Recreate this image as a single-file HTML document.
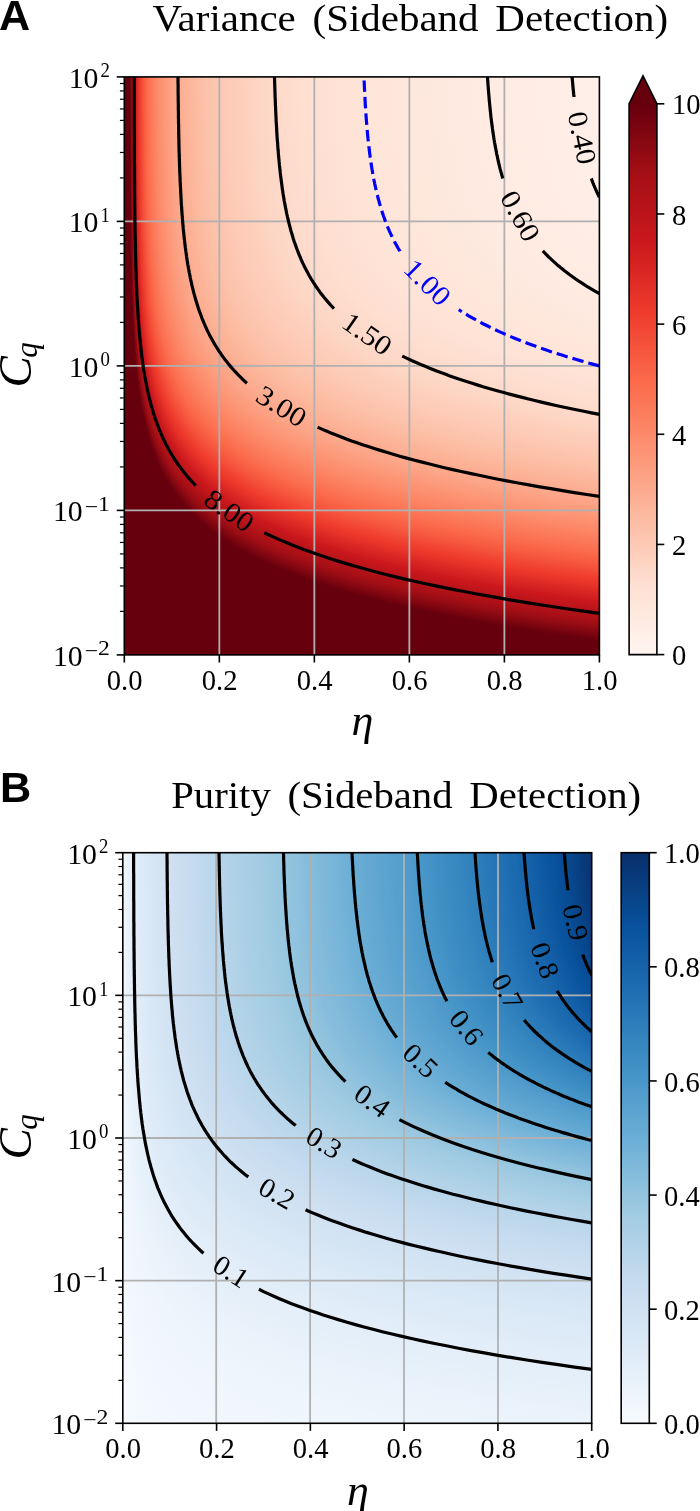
<!DOCTYPE html>
<html><head><meta charset="utf-8"><title>Variance and Purity (Sideband Detection)</title>
<style>html,body{margin:0;padding:0;background:#fff}svg text{font-family:"Liberation Serif",serif}svg text.pl{font-family:"Liberation Sans",sans-serif;font-weight:bold}</style></head>
<body>
<svg width="700" height="1511" viewBox="0 0 700 1511" style="display:block;will-change:transform">
<defs>
<linearGradient id="gA" x1="0" y1="0" x2="1" y2="0"><stop offset="0" stop-color="#67000d"/><stop offset="0.0124" stop-color="#67000d"/><stop offset="0.0126446" stop-color="#6b010e"/><stop offset="0.0129026" stop-color="#71020e"/><stop offset="0.0131744" stop-color="#75030f"/><stop offset="0.0134601" stop-color="#7a0510"/><stop offset="0.01376" stop-color="#7e0610"/><stop offset="0.0140743" stop-color="#840711"/><stop offset="0.014403" stop-color="#880811"/><stop offset="0.0147464" stop-color="#8e0912"/><stop offset="0.0151043" stop-color="#940b13"/><stop offset="0.0154768" stop-color="#980c13"/><stop offset="0.0158637" stop-color="#9d0d14"/><stop offset="0.0162647" stop-color="#a10e15"/><stop offset="0.0166794" stop-color="#a60f15"/><stop offset="0.0171074" stop-color="#a91016"/><stop offset="0.017548" stop-color="#ac1117"/><stop offset="0.0180002" stop-color="#af1117"/><stop offset="0.018463" stop-color="#b21218"/><stop offset="0.018935" stop-color="#b61319"/><stop offset="0.0194146" stop-color="#b81419"/><stop offset="0.0199" stop-color="#bc141a"/><stop offset="0.0203959" stop-color="#be151a"/><stop offset="0.0209089" stop-color="#c2161b"/><stop offset="0.0214398" stop-color="#c4161c"/><stop offset="0.0219895" stop-color="#c8171c"/><stop offset="0.0225589" stop-color="#cb181d"/><stop offset="0.023149" stop-color="#ce1a1e"/><stop offset="0.0237606" stop-color="#d11e1f"/><stop offset="0.0243948" stop-color="#d32020"/><stop offset="0.0250529" stop-color="#d72322"/><stop offset="0.0257359" stop-color="#d92523"/><stop offset="0.0264452" stop-color="#dc2924"/><stop offset="0.0271821" stop-color="#de2b25"/><stop offset="0.027948" stop-color="#e22e27"/><stop offset="0.0287445" stop-color="#e53228"/><stop offset="0.0295733" stop-color="#e83429"/><stop offset="0.0304361" stop-color="#eb372a"/><stop offset="0.0313348" stop-color="#ed392b"/><stop offset="0.0322714" stop-color="#f03d2d"/><stop offset="0.0332481" stop-color="#f0402f"/><stop offset="0.0342672" stop-color="#f14432"/><stop offset="0.0353313" stop-color="#f24734"/><stop offset="0.036443" stop-color="#f34c37"/><stop offset="0.0376053" stop-color="#f4503a"/><stop offset="0.0388213" stop-color="#f5533b"/><stop offset="0.0400943" stop-color="#f6583e"/><stop offset="0.0414282" stop-color="#f75b40"/><stop offset="0.0428268" stop-color="#f85f43"/><stop offset="0.0442945" stop-color="#f96245"/><stop offset="0.045836" stop-color="#fa6648"/><stop offset="0.0474564" stop-color="#fb6b4b"/><stop offset="0.0491614" stop-color="#fb6d4d"/><stop offset="0.050957" stop-color="#fb7151"/><stop offset="0.05285" stop-color="#fb7353"/><stop offset="0.0548477" stop-color="#fb7757"/><stop offset="0.0569581" stop-color="#fb7a5a"/><stop offset="0.0591902" stop-color="#fb7d5d"/><stop offset="0.0615538" stop-color="#fc8060"/><stop offset="0.0640598" stop-color="#fc8464"/><stop offset="0.0667202" stop-color="#fc8767"/><stop offset="0.0695485" stop-color="#fc8a6a"/><stop offset="0.0725596" stop-color="#fc8e6e"/><stop offset="0.0757703" stop-color="#fc9070"/><stop offset="0.0791993" stop-color="#fc9474"/><stop offset="0.0828678" stop-color="#fc9777"/><stop offset="0.0867996" stop-color="#fc9b7c"/><stop offset="0.0910219" stop-color="#fc9d7f"/><stop offset="0.0955652" stop-color="#fca183"/><stop offset="0.100465" stop-color="#fca588"/><stop offset="0.105761" stop-color="#fca78b"/><stop offset="0.1115" stop-color="#fcab8f"/><stop offset="0.117745" stop-color="#fcae92"/><stop offset="0.124567" stop-color="#fcb296"/><stop offset="0.132034" stop-color="#fcb499"/><stop offset="0.140224" stop-color="#fcb89e"/><stop offset="0.149225" stop-color="#fcbca2"/><stop offset="0.15914" stop-color="#fcbea5"/><stop offset="0.170083" stop-color="#fcc2aa"/><stop offset="0.182186" stop-color="#fcc4ad"/><stop offset="0.195599" stop-color="#fdc7b2"/><stop offset="0.210491" stop-color="#fdcab5"/><stop offset="0.22705" stop-color="#fdcdb9"/><stop offset="0.245488" stop-color="#fdd0bc"/><stop offset="0.266032" stop-color="#fdd3c1"/><stop offset="0.288923" stop-color="#fdd7c6"/><stop offset="0.3144" stop-color="#fed9c9"/><stop offset="0.343046" stop-color="#fedccd"/><stop offset="0.375591" stop-color="#fedfd0"/><stop offset="0.412444" stop-color="#fee1d4"/><stop offset="0.453865" stop-color="#fee3d6"/><stop offset="0.49975" stop-color="#fee5d8"/><stop offset="0.551631" stop-color="#fee6da"/><stop offset="0.612087" stop-color="#fee8dd"/><stop offset="0.681542" stop-color="#feeae0"/><stop offset="0.7585" stop-color="#ffebe2"/><stop offset="0.842379" stop-color="#ffede5"/><stop offset="0.9347" stop-color="#ffeee7"/><stop offset="0.972456" stop-color="#ffefe8"/><stop offset="1" stop-color="#fff0e8"/></linearGradient>
<linearGradient id="gB" x1="0" y1="0" x2="1" y2="0"><stop offset="0" stop-color="#f7fbff"/><stop offset="0.000219998" stop-color="#f5fafe"/><stop offset="0.000885602" stop-color="#f3f8fe"/><stop offset="0.00200462" stop-color="#f2f7fd"/><stop offset="0.00358402" stop-color="#eff6fc"/><stop offset="0.00562987" stop-color="#eef5fc"/><stop offset="0.00814727" stop-color="#ebf3fb"/><stop offset="0.0111404" stop-color="#eaf2fb"/><stop offset="0.0146122" stop-color="#e7f1fa"/><stop offset="0.0185648" stop-color="#e5eff9"/><stop offset="0.0229991" stop-color="#e3eef9"/><stop offset="0.0279148" stop-color="#e1edf8"/><stop offset="0.0333106" stop-color="#dfecf7"/><stop offset="0.039184" stop-color="#ddeaf7"/><stop offset="0.0455312" stop-color="#dce9f6"/><stop offset="0.0523475" stop-color="#d9e8f5"/><stop offset="0.0596267" stop-color="#d8e7f5"/><stop offset="0.0673618" stop-color="#d6e5f4"/><stop offset="0.0755445" stop-color="#d3e4f3"/><stop offset="0.0841654" stop-color="#d2e3f3"/><stop offset="0.093214" stop-color="#d0e1f2"/><stop offset="0.102679" stop-color="#cee0f2"/><stop offset="0.112548" stop-color="#ccdff1"/><stop offset="0.122808" stop-color="#cadef0"/><stop offset="0.133444" stop-color="#c8dcf0"/><stop offset="0.144442" stop-color="#c6dbef"/><stop offset="0.155786" stop-color="#c3daee"/><stop offset="0.167459" stop-color="#bfd8ed"/><stop offset="0.179445" stop-color="#bdd7ec"/><stop offset="0.191727" stop-color="#b9d6ea"/><stop offset="0.204285" stop-color="#b7d4ea"/><stop offset="0.217104" stop-color="#b3d3e8"/><stop offset="0.230163" stop-color="#b0d2e7"/><stop offset="0.243444" stop-color="#add0e6"/><stop offset="0.256929" stop-color="#a9cfe5"/><stop offset="0.270599" stop-color="#a6cee4"/><stop offset="0.284434" stop-color="#a3cce3"/><stop offset="0.298417" stop-color="#a0cbe2"/><stop offset="0.312528" stop-color="#9cc9e1"/><stop offset="0.32675" stop-color="#99c7e0"/><stop offset="0.341064" stop-color="#94c4df"/><stop offset="0.355453" stop-color="#91c3de"/><stop offset="0.369899" stop-color="#8cc0dd"/><stop offset="0.384386" stop-color="#87bddc"/><stop offset="0.398898" stop-color="#84bcdb"/><stop offset="0.413417" stop-color="#7fb9da"/><stop offset="0.42793" stop-color="#7cb7da"/><stop offset="0.442421" stop-color="#77b5d9"/><stop offset="0.456876" stop-color="#74b3d8"/><stop offset="0.471282" stop-color="#6fb0d7"/><stop offset="0.485625" stop-color="#6aaed6"/><stop offset="0.499895" stop-color="#68acd5"/><stop offset="0.514078" stop-color="#64a9d3"/><stop offset="0.528164" stop-color="#61a7d2"/><stop offset="0.542143" stop-color="#5da5d1"/><stop offset="0.556005" stop-color="#5ba3d0"/><stop offset="0.569741" stop-color="#57a0ce"/><stop offset="0.583343" stop-color="#549fcd"/><stop offset="0.596803" stop-color="#519ccc"/><stop offset="0.610113" stop-color="#4d99ca"/><stop offset="0.623269" stop-color="#4a98c9"/><stop offset="0.636262" stop-color="#4695c8"/><stop offset="0.649089" stop-color="#4493c7"/><stop offset="0.661744" stop-color="#4090c5"/><stop offset="0.674224" stop-color="#3e8ec4"/><stop offset="0.686523" stop-color="#3b8bc2"/><stop offset="0.698639" stop-color="#3989c1"/><stop offset="0.71057" stop-color="#3686c0"/><stop offset="0.722312" stop-color="#3383be"/><stop offset="0.733864" stop-color="#3181bd"/><stop offset="0.745224" stop-color="#2e7ebc"/><stop offset="0.756392" stop-color="#2c7cba"/><stop offset="0.767365" stop-color="#2979b9"/><stop offset="0.778144" stop-color="#2676b8"/><stop offset="0.788729" stop-color="#2373b6"/><stop offset="0.799119" stop-color="#2070b4"/><stop offset="0.809315" stop-color="#1f6eb3"/><stop offset="0.819318" stop-color="#1c6bb0"/><stop offset="0.829129" stop-color="#1b69af"/><stop offset="0.838748" stop-color="#1966ad"/><stop offset="0.848176" stop-color="#1764ab"/><stop offset="0.857417" stop-color="#1561a9"/><stop offset="0.86647" stop-color="#135fa7"/><stop offset="0.875338" stop-color="#115ca5"/><stop offset="0.884023" stop-color="#0e59a2"/><stop offset="0.892526" stop-color="#0d57a1"/><stop offset="0.900851" stop-color="#0a549e"/><stop offset="0.908999" stop-color="#09529d"/><stop offset="0.916972" stop-color="#084f99"/><stop offset="0.924774" stop-color="#084d96"/><stop offset="0.932406" stop-color="#084a91"/><stop offset="0.939872" stop-color="#08488e"/><stop offset="0.947173" stop-color="#08458a"/><stop offset="0.954313" stop-color="#084285"/><stop offset="0.961294" stop-color="#084082"/><stop offset="0.968119" stop-color="#083c7d"/><stop offset="0.974791" stop-color="#083a7a"/><stop offset="0.981312" stop-color="#083776"/><stop offset="0.987685" stop-color="#083573"/><stop offset="0.993914" stop-color="#08326e"/><stop offset="1" stop-color="#08306b"/></linearGradient>
<linearGradient id="cA" x1="0" y1="1" x2="0" y2="0"><stop offset="0" stop-color="#fff5f0"/><stop offset="0.015625" stop-color="#fff2ec"/><stop offset="0.03125" stop-color="#fff0e8"/><stop offset="0.046875" stop-color="#ffede5"/><stop offset="0.0625" stop-color="#feeae1"/><stop offset="0.078125" stop-color="#fee8dd"/><stop offset="0.09375" stop-color="#fee5d9"/><stop offset="0.109375" stop-color="#fee3d6"/><stop offset="0.125" stop-color="#fee0d2"/><stop offset="0.140625" stop-color="#fedbcc"/><stop offset="0.15625" stop-color="#fdd7c6"/><stop offset="0.171875" stop-color="#fdd2bf"/><stop offset="0.1875" stop-color="#fdcdb9"/><stop offset="0.203125" stop-color="#fdc9b3"/><stop offset="0.21875" stop-color="#fcc4ad"/><stop offset="0.234375" stop-color="#fcbfa7"/><stop offset="0.25" stop-color="#fcbba1"/><stop offset="0.265625" stop-color="#fcb69b"/><stop offset="0.28125" stop-color="#fcb095"/><stop offset="0.296875" stop-color="#fcab8f"/><stop offset="0.3125" stop-color="#fca689"/><stop offset="0.328125" stop-color="#fca183"/><stop offset="0.34375" stop-color="#fc9c7d"/><stop offset="0.359375" stop-color="#fc9777"/><stop offset="0.375" stop-color="#fc9272"/><stop offset="0.390625" stop-color="#fc8d6d"/><stop offset="0.40625" stop-color="#fc8767"/><stop offset="0.421875" stop-color="#fc8262"/><stop offset="0.4375" stop-color="#fb7d5d"/><stop offset="0.453125" stop-color="#fb7858"/><stop offset="0.46875" stop-color="#fb7353"/><stop offset="0.484375" stop-color="#fb6e4e"/><stop offset="0.5" stop-color="#fb694a"/><stop offset="0.515625" stop-color="#f96346"/><stop offset="0.53125" stop-color="#f85d42"/><stop offset="0.546875" stop-color="#f6583e"/><stop offset="0.5625" stop-color="#f5523a"/><stop offset="0.578125" stop-color="#f34c37"/><stop offset="0.59375" stop-color="#f24633"/><stop offset="0.609375" stop-color="#f0402f"/><stop offset="0.625" stop-color="#ee3a2c"/><stop offset="0.640625" stop-color="#ea362a"/><stop offset="0.65625" stop-color="#e53228"/><stop offset="0.671875" stop-color="#e12d26"/><stop offset="0.6875" stop-color="#dc2924"/><stop offset="0.703125" stop-color="#d82422"/><stop offset="0.71875" stop-color="#d32020"/><stop offset="0.734375" stop-color="#cf1c1f"/><stop offset="0.75" stop-color="#ca181d"/><stop offset="0.765625" stop-color="#c5171c"/><stop offset="0.78125" stop-color="#c1161b"/><stop offset="0.796875" stop-color="#bc141a"/><stop offset="0.8125" stop-color="#b71319"/><stop offset="0.828125" stop-color="#b21218"/><stop offset="0.84375" stop-color="#ad1117"/><stop offset="0.859375" stop-color="#a91016"/><stop offset="0.875" stop-color="#a30f15"/><stop offset="0.890625" stop-color="#9c0d14"/><stop offset="0.90625" stop-color="#940b13"/><stop offset="0.921875" stop-color="#8c0912"/><stop offset="0.9375" stop-color="#840711"/><stop offset="0.953125" stop-color="#7c0510"/><stop offset="0.96875" stop-color="#75030f"/><stop offset="0.984375" stop-color="#6d010e"/><stop offset="1" stop-color="#67000d"/></linearGradient>
<linearGradient id="cB" x1="0" y1="1" x2="0" y2="0"><stop offset="0" stop-color="#f7fbff"/><stop offset="0.015625" stop-color="#f4f9fe"/><stop offset="0.03125" stop-color="#f1f7fd"/><stop offset="0.046875" stop-color="#eef5fc"/><stop offset="0.0625" stop-color="#eaf3fb"/><stop offset="0.078125" stop-color="#e7f1fa"/><stop offset="0.09375" stop-color="#e4eff9"/><stop offset="0.109375" stop-color="#e1edf8"/><stop offset="0.125" stop-color="#deebf7"/><stop offset="0.140625" stop-color="#dbe9f6"/><stop offset="0.15625" stop-color="#d8e7f5"/><stop offset="0.171875" stop-color="#d5e5f4"/><stop offset="0.1875" stop-color="#d2e3f3"/><stop offset="0.203125" stop-color="#cfe1f2"/><stop offset="0.21875" stop-color="#ccdff1"/><stop offset="0.234375" stop-color="#c9ddf0"/><stop offset="0.25" stop-color="#c6dbef"/><stop offset="0.265625" stop-color="#c1d9ed"/><stop offset="0.28125" stop-color="#bcd7eb"/><stop offset="0.296875" stop-color="#b7d4ea"/><stop offset="0.3125" stop-color="#b2d2e8"/><stop offset="0.328125" stop-color="#add0e6"/><stop offset="0.34375" stop-color="#a8cee4"/><stop offset="0.359375" stop-color="#a3cce3"/><stop offset="0.375" stop-color="#9dcae1"/><stop offset="0.390625" stop-color="#97c6df"/><stop offset="0.40625" stop-color="#91c3de"/><stop offset="0.421875" stop-color="#8abfdd"/><stop offset="0.4375" stop-color="#84bcdb"/><stop offset="0.453125" stop-color="#7db8da"/><stop offset="0.46875" stop-color="#77b5d9"/><stop offset="0.484375" stop-color="#71b1d7"/><stop offset="0.5" stop-color="#6aaed6"/><stop offset="0.515625" stop-color="#65aad4"/><stop offset="0.53125" stop-color="#60a7d2"/><stop offset="0.546875" stop-color="#5ba3d0"/><stop offset="0.5625" stop-color="#56a0ce"/><stop offset="0.578125" stop-color="#519ccc"/><stop offset="0.59375" stop-color="#4b98ca"/><stop offset="0.609375" stop-color="#4695c8"/><stop offset="0.625" stop-color="#4191c6"/><stop offset="0.640625" stop-color="#3d8dc4"/><stop offset="0.65625" stop-color="#3989c1"/><stop offset="0.671875" stop-color="#3585bf"/><stop offset="0.6875" stop-color="#3181bd"/><stop offset="0.703125" stop-color="#2d7dbb"/><stop offset="0.71875" stop-color="#2979b9"/><stop offset="0.734375" stop-color="#2474b7"/><stop offset="0.75" stop-color="#2070b4"/><stop offset="0.765625" stop-color="#1d6cb1"/><stop offset="0.78125" stop-color="#1a68ae"/><stop offset="0.796875" stop-color="#1764ab"/><stop offset="0.8125" stop-color="#1460a8"/><stop offset="0.828125" stop-color="#115ca5"/><stop offset="0.84375" stop-color="#0e58a2"/><stop offset="0.859375" stop-color="#0a549e"/><stop offset="0.875" stop-color="#08509b"/><stop offset="0.890625" stop-color="#084c95"/><stop offset="0.90625" stop-color="#08488e"/><stop offset="0.921875" stop-color="#084488"/><stop offset="0.9375" stop-color="#084082"/><stop offset="0.953125" stop-color="#083b7c"/><stop offset="0.96875" stop-color="#083776"/><stop offset="0.984375" stop-color="#083370"/><stop offset="1" stop-color="#08306b"/></linearGradient>
<clipPath id="clA"><rect x="124.30" y="76.90" width="475.10" height="578.00"/></clipPath>
<clipPath id="clB"><rect x="122.80" y="852.70" width="468.90" height="570.60"/></clipPath>
</defs>
<rect width="700" height="1511" fill="#fff"/>
<g clip-path="url(#clA)" shape-rendering="crispEdges">
<rect x="124.30" y="76" width="479.9" height="1" fill="url(#gA)"/>
<rect x="124.30" y="77" width="479.9" height="1" fill="url(#gA)"/>
<rect x="124.30" y="78" width="480.0" height="1" fill="url(#gA)"/>
<rect x="124.30" y="79" width="480.1" height="1" fill="url(#gA)"/>
<rect x="124.30" y="80" width="480.1" height="1" fill="url(#gA)"/>
<rect x="124.30" y="81" width="480.2" height="1" fill="url(#gA)"/>
<rect x="124.30" y="82" width="480.3" height="1" fill="url(#gA)"/>
<rect x="124.30" y="83" width="480.4" height="1" fill="url(#gA)"/>
<rect x="124.30" y="84" width="480.5" height="1" fill="url(#gA)"/>
<rect x="124.30" y="85" width="480.5" height="1" fill="url(#gA)"/>
<rect x="124.30" y="86" width="480.6" height="1" fill="url(#gA)"/>
<rect x="124.30" y="87" width="480.7" height="1" fill="url(#gA)"/>
<rect x="124.30" y="88" width="480.8" height="1" fill="url(#gA)"/>
<rect x="124.30" y="89" width="480.9" height="1" fill="url(#gA)"/>
<rect x="124.30" y="90" width="481.0" height="1" fill="url(#gA)"/>
<rect x="124.30" y="91" width="481.1" height="1" fill="url(#gA)"/>
<rect x="124.30" y="92" width="481.2" height="1" fill="url(#gA)"/>
<rect x="124.30" y="93" width="481.3" height="1" fill="url(#gA)"/>
<rect x="124.30" y="94" width="481.4" height="1" fill="url(#gA)"/>
<rect x="124.30" y="95" width="481.5" height="1" fill="url(#gA)"/>
<rect x="124.30" y="96" width="481.6" height="1" fill="url(#gA)"/>
<rect x="124.30" y="97" width="481.7" height="1" fill="url(#gA)"/>
<rect x="124.30" y="98" width="481.8" height="1" fill="url(#gA)"/>
<rect x="124.30" y="99" width="481.9" height="1" fill="url(#gA)"/>
<rect x="124.30" y="100" width="482.0" height="1" fill="url(#gA)"/>
<rect x="124.30" y="101" width="482.1" height="1" fill="url(#gA)"/>
<rect x="124.30" y="102" width="482.2" height="1" fill="url(#gA)"/>
<rect x="124.30" y="103" width="482.4" height="1" fill="url(#gA)"/>
<rect x="124.30" y="104" width="482.5" height="1" fill="url(#gA)"/>
<rect x="124.30" y="105" width="482.6" height="1" fill="url(#gA)"/>
<rect x="124.30" y="106" width="482.7" height="1" fill="url(#gA)"/>
<rect x="124.30" y="107" width="482.8" height="1" fill="url(#gA)"/>
<rect x="124.30" y="108" width="483.0" height="1" fill="url(#gA)"/>
<rect x="124.30" y="109" width="483.1" height="1" fill="url(#gA)"/>
<rect x="124.30" y="110" width="483.2" height="1" fill="url(#gA)"/>
<rect x="124.30" y="111" width="483.3" height="1" fill="url(#gA)"/>
<rect x="124.30" y="112" width="483.5" height="1" fill="url(#gA)"/>
<rect x="124.30" y="113" width="483.6" height="1" fill="url(#gA)"/>
<rect x="124.30" y="114" width="483.7" height="1" fill="url(#gA)"/>
<rect x="124.30" y="115" width="483.9" height="1" fill="url(#gA)"/>
<rect x="124.30" y="116" width="484.0" height="1" fill="url(#gA)"/>
<rect x="124.30" y="117" width="484.2" height="1" fill="url(#gA)"/>
<rect x="124.30" y="118" width="484.3" height="1" fill="url(#gA)"/>
<rect x="124.30" y="119" width="484.5" height="1" fill="url(#gA)"/>
<rect x="124.30" y="120" width="484.6" height="1" fill="url(#gA)"/>
<rect x="124.30" y="121" width="484.8" height="1" fill="url(#gA)"/>
<rect x="124.30" y="122" width="484.9" height="1" fill="url(#gA)"/>
<rect x="124.30" y="123" width="485.1" height="1" fill="url(#gA)"/>
<rect x="124.30" y="124" width="485.2" height="1" fill="url(#gA)"/>
<rect x="124.30" y="125" width="485.4" height="1" fill="url(#gA)"/>
<rect x="124.30" y="126" width="485.6" height="1" fill="url(#gA)"/>
<rect x="124.30" y="127" width="485.7" height="1" fill="url(#gA)"/>
<rect x="124.30" y="128" width="485.9" height="1" fill="url(#gA)"/>
<rect x="124.30" y="129" width="486.1" height="1" fill="url(#gA)"/>
<rect x="124.30" y="130" width="486.3" height="1" fill="url(#gA)"/>
<rect x="124.30" y="131" width="486.4" height="1" fill="url(#gA)"/>
<rect x="124.30" y="132" width="486.6" height="1" fill="url(#gA)"/>
<rect x="124.30" y="133" width="486.8" height="1" fill="url(#gA)"/>
<rect x="124.30" y="134" width="487.0" height="1" fill="url(#gA)"/>
<rect x="124.30" y="135" width="487.2" height="1" fill="url(#gA)"/>
<rect x="124.30" y="136" width="487.4" height="1" fill="url(#gA)"/>
<rect x="124.30" y="137" width="487.6" height="1" fill="url(#gA)"/>
<rect x="124.30" y="138" width="487.8" height="1" fill="url(#gA)"/>
<rect x="124.30" y="139" width="488.0" height="1" fill="url(#gA)"/>
<rect x="124.30" y="140" width="488.2" height="1" fill="url(#gA)"/>
<rect x="124.30" y="141" width="488.4" height="1" fill="url(#gA)"/>
<rect x="124.30" y="142" width="488.6" height="1" fill="url(#gA)"/>
<rect x="124.30" y="143" width="488.8" height="1" fill="url(#gA)"/>
<rect x="124.30" y="144" width="489.1" height="1" fill="url(#gA)"/>
<rect x="124.30" y="145" width="489.3" height="1" fill="url(#gA)"/>
<rect x="124.30" y="146" width="489.5" height="1" fill="url(#gA)"/>
<rect x="124.30" y="147" width="489.7" height="1" fill="url(#gA)"/>
<rect x="124.30" y="148" width="490.0" height="1" fill="url(#gA)"/>
<rect x="124.30" y="149" width="490.2" height="1" fill="url(#gA)"/>
<rect x="124.30" y="150" width="490.5" height="1" fill="url(#gA)"/>
<rect x="124.30" y="151" width="490.7" height="1" fill="url(#gA)"/>
<rect x="124.30" y="152" width="490.9" height="1" fill="url(#gA)"/>
<rect x="124.30" y="153" width="491.2" height="1" fill="url(#gA)"/>
<rect x="124.30" y="154" width="491.5" height="1" fill="url(#gA)"/>
<rect x="124.30" y="155" width="491.7" height="1" fill="url(#gA)"/>
<rect x="124.30" y="156" width="492.0" height="1" fill="url(#gA)"/>
<rect x="124.30" y="157" width="492.3" height="1" fill="url(#gA)"/>
<rect x="124.30" y="158" width="492.5" height="1" fill="url(#gA)"/>
<rect x="124.30" y="159" width="492.8" height="1" fill="url(#gA)"/>
<rect x="124.30" y="160" width="493.1" height="1" fill="url(#gA)"/>
<rect x="124.30" y="161" width="493.4" height="1" fill="url(#gA)"/>
<rect x="124.30" y="162" width="493.7" height="1" fill="url(#gA)"/>
<rect x="124.30" y="163" width="494.0" height="1" fill="url(#gA)"/>
<rect x="124.30" y="164" width="494.3" height="1" fill="url(#gA)"/>
<rect x="124.30" y="165" width="494.6" height="1" fill="url(#gA)"/>
<rect x="124.30" y="166" width="494.9" height="1" fill="url(#gA)"/>
<rect x="124.30" y="167" width="495.2" height="1" fill="url(#gA)"/>
<rect x="124.30" y="168" width="495.6" height="1" fill="url(#gA)"/>
<rect x="124.30" y="169" width="495.9" height="1" fill="url(#gA)"/>
<rect x="124.30" y="170" width="496.2" height="1" fill="url(#gA)"/>
<rect x="124.30" y="171" width="496.6" height="1" fill="url(#gA)"/>
<rect x="124.30" y="172" width="496.9" height="1" fill="url(#gA)"/>
<rect x="124.30" y="173" width="497.2" height="1" fill="url(#gA)"/>
<rect x="124.30" y="174" width="497.6" height="1" fill="url(#gA)"/>
<rect x="124.30" y="175" width="498.0" height="1" fill="url(#gA)"/>
<rect x="124.30" y="176" width="498.3" height="1" fill="url(#gA)"/>
<rect x="124.30" y="177" width="498.7" height="1" fill="url(#gA)"/>
<rect x="124.30" y="178" width="499.1" height="1" fill="url(#gA)"/>
<rect x="124.30" y="179" width="499.5" height="1" fill="url(#gA)"/>
<rect x="124.30" y="180" width="499.9" height="1" fill="url(#gA)"/>
<rect x="124.30" y="181" width="500.3" height="1" fill="url(#gA)"/>
<rect x="124.30" y="182" width="500.7" height="1" fill="url(#gA)"/>
<rect x="124.30" y="183" width="501.1" height="1" fill="url(#gA)"/>
<rect x="124.30" y="184" width="501.5" height="1" fill="url(#gA)"/>
<rect x="124.30" y="185" width="501.9" height="1" fill="url(#gA)"/>
<rect x="124.30" y="186" width="502.3" height="1" fill="url(#gA)"/>
<rect x="124.30" y="187" width="502.8" height="1" fill="url(#gA)"/>
<rect x="124.30" y="188" width="503.2" height="1" fill="url(#gA)"/>
<rect x="124.30" y="189" width="503.7" height="1" fill="url(#gA)"/>
<rect x="124.30" y="190" width="504.1" height="1" fill="url(#gA)"/>
<rect x="124.30" y="191" width="504.6" height="1" fill="url(#gA)"/>
<rect x="124.30" y="192" width="505.1" height="1" fill="url(#gA)"/>
<rect x="124.30" y="193" width="505.6" height="1" fill="url(#gA)"/>
<rect x="124.30" y="194" width="506.0" height="1" fill="url(#gA)"/>
<rect x="124.30" y="195" width="506.5" height="1" fill="url(#gA)"/>
<rect x="124.30" y="196" width="507.0" height="1" fill="url(#gA)"/>
<rect x="124.30" y="197" width="507.6" height="1" fill="url(#gA)"/>
<rect x="124.30" y="198" width="508.1" height="1" fill="url(#gA)"/>
<rect x="124.30" y="199" width="508.6" height="1" fill="url(#gA)"/>
<rect x="124.30" y="200" width="509.2" height="1" fill="url(#gA)"/>
<rect x="124.30" y="201" width="509.7" height="1" fill="url(#gA)"/>
<rect x="124.30" y="202" width="510.3" height="1" fill="url(#gA)"/>
<rect x="124.30" y="203" width="510.8" height="1" fill="url(#gA)"/>
<rect x="124.30" y="204" width="511.4" height="1" fill="url(#gA)"/>
<rect x="124.30" y="205" width="512.0" height="1" fill="url(#gA)"/>
<rect x="124.30" y="206" width="512.6" height="1" fill="url(#gA)"/>
<rect x="124.30" y="207" width="513.2" height="1" fill="url(#gA)"/>
<rect x="124.30" y="208" width="513.8" height="1" fill="url(#gA)"/>
<rect x="124.30" y="209" width="514.4" height="1" fill="url(#gA)"/>
<rect x="124.30" y="210" width="515.0" height="1" fill="url(#gA)"/>
<rect x="124.30" y="211" width="515.7" height="1" fill="url(#gA)"/>
<rect x="124.30" y="212" width="516.3" height="1" fill="url(#gA)"/>
<rect x="124.30" y="213" width="517.0" height="1" fill="url(#gA)"/>
<rect x="124.30" y="214" width="517.7" height="1" fill="url(#gA)"/>
<rect x="124.30" y="215" width="518.3" height="1" fill="url(#gA)"/>
<rect x="124.30" y="216" width="519.0" height="1" fill="url(#gA)"/>
<rect x="124.30" y="217" width="519.7" height="1" fill="url(#gA)"/>
<rect x="124.30" y="218" width="520.5" height="1" fill="url(#gA)"/>
<rect x="124.30" y="219" width="521.2" height="1" fill="url(#gA)"/>
<rect x="124.30" y="220" width="521.9" height="1" fill="url(#gA)"/>
<rect x="124.30" y="221" width="522.7" height="1" fill="url(#gA)"/>
<rect x="124.30" y="222" width="523.5" height="1" fill="url(#gA)"/>
<rect x="124.30" y="223" width="524.2" height="1" fill="url(#gA)"/>
<rect x="124.30" y="224" width="525.0" height="1" fill="url(#gA)"/>
<rect x="124.30" y="225" width="525.8" height="1" fill="url(#gA)"/>
<rect x="124.30" y="226" width="526.6" height="1" fill="url(#gA)"/>
<rect x="124.30" y="227" width="527.5" height="1" fill="url(#gA)"/>
<rect x="124.30" y="228" width="528.3" height="1" fill="url(#gA)"/>
<rect x="124.30" y="229" width="529.2" height="1" fill="url(#gA)"/>
<rect x="124.30" y="230" width="530.0" height="1" fill="url(#gA)"/>
<rect x="124.30" y="231" width="530.9" height="1" fill="url(#gA)"/>
<rect x="124.30" y="232" width="531.8" height="1" fill="url(#gA)"/>
<rect x="124.30" y="233" width="532.7" height="1" fill="url(#gA)"/>
<rect x="124.30" y="234" width="533.6" height="1" fill="url(#gA)"/>
<rect x="124.30" y="235" width="534.6" height="1" fill="url(#gA)"/>
<rect x="124.30" y="236" width="535.5" height="1" fill="url(#gA)"/>
<rect x="124.30" y="237" width="536.5" height="1" fill="url(#gA)"/>
<rect x="124.30" y="238" width="537.5" height="1" fill="url(#gA)"/>
<rect x="124.30" y="239" width="538.5" height="1" fill="url(#gA)"/>
<rect x="124.30" y="240" width="539.5" height="1" fill="url(#gA)"/>
<rect x="124.30" y="241" width="540.5" height="1" fill="url(#gA)"/>
<rect x="124.30" y="242" width="541.6" height="1" fill="url(#gA)"/>
<rect x="124.30" y="243" width="542.7" height="1" fill="url(#gA)"/>
<rect x="124.30" y="244" width="543.8" height="1" fill="url(#gA)"/>
<rect x="124.30" y="245" width="544.9" height="1" fill="url(#gA)"/>
<rect x="124.30" y="246" width="546.0" height="1" fill="url(#gA)"/>
<rect x="124.30" y="247" width="547.1" height="1" fill="url(#gA)"/>
<rect x="124.30" y="248" width="548.3" height="1" fill="url(#gA)"/>
<rect x="124.30" y="249" width="549.4" height="1" fill="url(#gA)"/>
<rect x="124.30" y="250" width="550.6" height="1" fill="url(#gA)"/>
<rect x="124.30" y="251" width="551.9" height="1" fill="url(#gA)"/>
<rect x="124.30" y="252" width="553.1" height="1" fill="url(#gA)"/>
<rect x="124.30" y="253" width="554.3" height="1" fill="url(#gA)"/>
<rect x="124.30" y="254" width="555.6" height="1" fill="url(#gA)"/>
<rect x="124.30" y="255" width="556.9" height="1" fill="url(#gA)"/>
<rect x="124.30" y="256" width="558.2" height="1" fill="url(#gA)"/>
<rect x="124.30" y="257" width="559.6" height="1" fill="url(#gA)"/>
<rect x="124.30" y="258" width="560.9" height="1" fill="url(#gA)"/>
<rect x="124.30" y="259" width="562.3" height="1" fill="url(#gA)"/>
<rect x="124.30" y="260" width="563.7" height="1" fill="url(#gA)"/>
<rect x="124.30" y="261" width="565.1" height="1" fill="url(#gA)"/>
<rect x="124.30" y="262" width="566.6" height="1" fill="url(#gA)"/>
<rect x="124.30" y="263" width="568.0" height="1" fill="url(#gA)"/>
<rect x="124.30" y="264" width="569.5" height="1" fill="url(#gA)"/>
<rect x="124.30" y="265" width="571.0" height="1" fill="url(#gA)"/>
<rect x="124.30" y="266" width="572.6" height="1" fill="url(#gA)"/>
<rect x="124.30" y="267" width="574.1" height="1" fill="url(#gA)"/>
<rect x="124.30" y="268" width="575.7" height="1" fill="url(#gA)"/>
<rect x="124.30" y="269" width="577.3" height="1" fill="url(#gA)"/>
<rect x="124.30" y="270" width="579.0" height="1" fill="url(#gA)"/>
<rect x="124.30" y="271" width="580.7" height="1" fill="url(#gA)"/>
<rect x="124.30" y="272" width="582.4" height="1" fill="url(#gA)"/>
<rect x="124.30" y="273" width="584.1" height="1" fill="url(#gA)"/>
<rect x="124.30" y="274" width="585.8" height="1" fill="url(#gA)"/>
<rect x="124.30" y="275" width="587.6" height="1" fill="url(#gA)"/>
<rect x="124.30" y="276" width="589.4" height="1" fill="url(#gA)"/>
<rect x="124.30" y="277" width="591.3" height="1" fill="url(#gA)"/>
<rect x="124.30" y="278" width="593.1" height="1" fill="url(#gA)"/>
<rect x="124.30" y="279" width="595.0" height="1" fill="url(#gA)"/>
<rect x="124.30" y="280" width="596.9" height="1" fill="url(#gA)"/>
<rect x="124.30" y="281" width="598.9" height="1" fill="url(#gA)"/>
<rect x="124.30" y="282" width="600.9" height="1" fill="url(#gA)"/>
<rect x="124.30" y="283" width="602.9" height="1" fill="url(#gA)"/>
<rect x="124.30" y="284" width="605.0" height="1" fill="url(#gA)"/>
<rect x="124.30" y="285" width="607.0" height="1" fill="url(#gA)"/>
<rect x="124.30" y="286" width="609.2" height="1" fill="url(#gA)"/>
<rect x="124.30" y="287" width="611.3" height="1" fill="url(#gA)"/>
<rect x="124.30" y="288" width="613.5" height="1" fill="url(#gA)"/>
<rect x="124.30" y="289" width="615.7" height="1" fill="url(#gA)"/>
<rect x="124.30" y="290" width="618.0" height="1" fill="url(#gA)"/>
<rect x="124.30" y="291" width="620.3" height="1" fill="url(#gA)"/>
<rect x="124.30" y="292" width="622.6" height="1" fill="url(#gA)"/>
<rect x="124.30" y="293" width="625.0" height="1" fill="url(#gA)"/>
<rect x="124.30" y="294" width="627.4" height="1" fill="url(#gA)"/>
<rect x="124.30" y="295" width="629.8" height="1" fill="url(#gA)"/>
<rect x="124.30" y="296" width="632.3" height="1" fill="url(#gA)"/>
<rect x="124.30" y="297" width="634.8" height="1" fill="url(#gA)"/>
<rect x="124.30" y="298" width="637.4" height="1" fill="url(#gA)"/>
<rect x="124.30" y="299" width="640.0" height="1" fill="url(#gA)"/>
<rect x="124.30" y="300" width="642.7" height="1" fill="url(#gA)"/>
<rect x="124.30" y="301" width="645.4" height="1" fill="url(#gA)"/>
<rect x="124.30" y="302" width="648.1" height="1" fill="url(#gA)"/>
<rect x="124.30" y="303" width="650.9" height="1" fill="url(#gA)"/>
<rect x="124.30" y="304" width="653.7" height="1" fill="url(#gA)"/>
<rect x="124.30" y="305" width="656.6" height="1" fill="url(#gA)"/>
<rect x="124.30" y="306" width="659.5" height="1" fill="url(#gA)"/>
<rect x="124.30" y="307" width="662.4" height="1" fill="url(#gA)"/>
<rect x="124.30" y="308" width="665.5" height="1" fill="url(#gA)"/>
<rect x="124.30" y="309" width="668.5" height="1" fill="url(#gA)"/>
<rect x="124.30" y="310" width="671.6" height="1" fill="url(#gA)"/>
<rect x="124.30" y="311" width="674.8" height="1" fill="url(#gA)"/>
<rect x="124.30" y="312" width="678.0" height="1" fill="url(#gA)"/>
<rect x="124.30" y="313" width="681.2" height="1" fill="url(#gA)"/>
<rect x="124.30" y="314" width="684.5" height="1" fill="url(#gA)"/>
<rect x="124.30" y="315" width="687.9" height="1" fill="url(#gA)"/>
<rect x="124.30" y="316" width="691.3" height="1" fill="url(#gA)"/>
<rect x="124.30" y="317" width="694.8" height="1" fill="url(#gA)"/>
<rect x="124.30" y="318" width="698.3" height="1" fill="url(#gA)"/>
<rect x="124.30" y="319" width="701.9" height="1" fill="url(#gA)"/>
<rect x="124.30" y="320" width="705.6" height="1" fill="url(#gA)"/>
<rect x="124.30" y="321" width="709.3" height="1" fill="url(#gA)"/>
<rect x="124.30" y="322" width="713.0" height="1" fill="url(#gA)"/>
<rect x="124.30" y="323" width="716.8" height="1" fill="url(#gA)"/>
<rect x="124.30" y="324" width="720.7" height="1" fill="url(#gA)"/>
<rect x="124.30" y="325" width="724.7" height="1" fill="url(#gA)"/>
<rect x="124.30" y="326" width="728.7" height="1" fill="url(#gA)"/>
<rect x="124.30" y="327" width="732.8" height="1" fill="url(#gA)"/>
<rect x="124.30" y="328" width="736.9" height="1" fill="url(#gA)"/>
<rect x="124.30" y="329" width="741.1" height="1" fill="url(#gA)"/>
<rect x="124.30" y="330" width="745.4" height="1" fill="url(#gA)"/>
<rect x="124.30" y="331" width="749.7" height="1" fill="url(#gA)"/>
<rect x="124.30" y="332" width="754.1" height="1" fill="url(#gA)"/>
<rect x="124.30" y="333" width="758.6" height="1" fill="url(#gA)"/>
<rect x="124.30" y="334" width="763.2" height="1" fill="url(#gA)"/>
<rect x="124.30" y="335" width="767.8" height="1" fill="url(#gA)"/>
<rect x="124.30" y="336" width="772.5" height="1" fill="url(#gA)"/>
<rect x="124.30" y="337" width="777.3" height="1" fill="url(#gA)"/>
<rect x="124.30" y="338" width="782.1" height="1" fill="url(#gA)"/>
<rect x="124.30" y="339" width="787.1" height="1" fill="url(#gA)"/>
<rect x="124.30" y="340" width="792.1" height="1" fill="url(#gA)"/>
<rect x="124.30" y="341" width="797.2" height="1" fill="url(#gA)"/>
<rect x="124.30" y="342" width="802.3" height="1" fill="url(#gA)"/>
<rect x="124.30" y="343" width="807.6" height="1" fill="url(#gA)"/>
<rect x="124.30" y="344" width="812.9" height="1" fill="url(#gA)"/>
<rect x="124.30" y="345" width="818.3" height="1" fill="url(#gA)"/>
<rect x="124.30" y="346" width="823.9" height="1" fill="url(#gA)"/>
<rect x="124.30" y="347" width="829.5" height="1" fill="url(#gA)"/>
<rect x="124.30" y="348" width="835.2" height="1" fill="url(#gA)"/>
<rect x="124.30" y="349" width="840.9" height="1" fill="url(#gA)"/>
<rect x="124.30" y="350" width="846.8" height="1" fill="url(#gA)"/>
<rect x="124.30" y="351" width="852.8" height="1" fill="url(#gA)"/>
<rect x="124.30" y="352" width="858.9" height="1" fill="url(#gA)"/>
<rect x="124.30" y="353" width="865.0" height="1" fill="url(#gA)"/>
<rect x="124.30" y="354" width="871.3" height="1" fill="url(#gA)"/>
<rect x="124.30" y="355" width="877.6" height="1" fill="url(#gA)"/>
<rect x="124.30" y="356" width="884.1" height="1" fill="url(#gA)"/>
<rect x="124.30" y="357" width="890.7" height="1" fill="url(#gA)"/>
<rect x="124.30" y="358" width="897.4" height="1" fill="url(#gA)"/>
<rect x="124.30" y="359" width="904.1" height="1" fill="url(#gA)"/>
<rect x="124.30" y="360" width="911.0" height="1" fill="url(#gA)"/>
<rect x="124.30" y="361" width="918.0" height="1" fill="url(#gA)"/>
<rect x="124.30" y="362" width="925.1" height="1" fill="url(#gA)"/>
<rect x="124.30" y="363" width="932.4" height="1" fill="url(#gA)"/>
<rect x="124.30" y="364" width="939.7" height="1" fill="url(#gA)"/>
<rect x="124.30" y="365" width="947.2" height="1" fill="url(#gA)"/>
<rect x="124.30" y="366" width="954.8" height="1" fill="url(#gA)"/>
<rect x="124.30" y="367" width="962.5" height="1" fill="url(#gA)"/>
<rect x="124.30" y="368" width="970.3" height="1" fill="url(#gA)"/>
<rect x="124.30" y="369" width="978.3" height="1" fill="url(#gA)"/>
<rect x="124.30" y="370" width="986.3" height="1" fill="url(#gA)"/>
<rect x="124.30" y="371" width="994.5" height="1" fill="url(#gA)"/>
<rect x="124.30" y="372" width="1002.9" height="1" fill="url(#gA)"/>
<rect x="124.30" y="373" width="1011.4" height="1" fill="url(#gA)"/>
<rect x="124.30" y="374" width="1020.0" height="1" fill="url(#gA)"/>
<rect x="124.30" y="375" width="1028.7" height="1" fill="url(#gA)"/>
<rect x="124.30" y="376" width="1037.6" height="1" fill="url(#gA)"/>
<rect x="124.30" y="377" width="1046.7" height="1" fill="url(#gA)"/>
<rect x="124.30" y="378" width="1055.8" height="1" fill="url(#gA)"/>
<rect x="124.30" y="379" width="1065.2" height="1" fill="url(#gA)"/>
<rect x="124.30" y="380" width="1074.6" height="1" fill="url(#gA)"/>
<rect x="124.30" y="381" width="1084.3" height="1" fill="url(#gA)"/>
<rect x="124.30" y="382" width="1094.1" height="1" fill="url(#gA)"/>
<rect x="124.30" y="383" width="1104.0" height="1" fill="url(#gA)"/>
<rect x="124.30" y="384" width="1114.1" height="1" fill="url(#gA)"/>
<rect x="124.30" y="385" width="1124.4" height="1" fill="url(#gA)"/>
<rect x="124.30" y="386" width="1134.8" height="1" fill="url(#gA)"/>
<rect x="124.30" y="387" width="1145.4" height="1" fill="url(#gA)"/>
<rect x="124.30" y="388" width="1156.2" height="1" fill="url(#gA)"/>
<rect x="124.30" y="389" width="1167.1" height="1" fill="url(#gA)"/>
<rect x="124.30" y="390" width="1178.2" height="1" fill="url(#gA)"/>
<rect x="124.30" y="391" width="1189.5" height="1" fill="url(#gA)"/>
<rect x="124.30" y="392" width="1201.0" height="1" fill="url(#gA)"/>
<rect x="124.30" y="393" width="1212.6" height="1" fill="url(#gA)"/>
<rect x="124.30" y="394" width="1224.5" height="1" fill="url(#gA)"/>
<rect x="124.30" y="395" width="1236.5" height="1" fill="url(#gA)"/>
<rect x="124.30" y="396" width="1248.8" height="1" fill="url(#gA)"/>
<rect x="124.30" y="397" width="1261.2" height="1" fill="url(#gA)"/>
<rect x="124.30" y="398" width="1273.8" height="1" fill="url(#gA)"/>
<rect x="124.30" y="399" width="1286.6" height="1" fill="url(#gA)"/>
<rect x="124.30" y="400" width="1299.7" height="1" fill="url(#gA)"/>
<rect x="124.30" y="401" width="1312.9" height="1" fill="url(#gA)"/>
<rect x="124.30" y="402" width="1326.4" height="1" fill="url(#gA)"/>
<rect x="124.30" y="403" width="1340.1" height="1" fill="url(#gA)"/>
<rect x="124.30" y="404" width="1353.9" height="1" fill="url(#gA)"/>
<rect x="124.30" y="405" width="1368.1" height="1" fill="url(#gA)"/>
<rect x="124.30" y="406" width="1382.4" height="1" fill="url(#gA)"/>
<rect x="124.30" y="407" width="1397.0" height="1" fill="url(#gA)"/>
<rect x="124.30" y="408" width="1411.8" height="1" fill="url(#gA)"/>
<rect x="124.30" y="409" width="1426.8" height="1" fill="url(#gA)"/>
<rect x="124.30" y="410" width="1442.1" height="1" fill="url(#gA)"/>
<rect x="124.30" y="411" width="1457.7" height="1" fill="url(#gA)"/>
<rect x="124.30" y="412" width="1473.4" height="1" fill="url(#gA)"/>
<rect x="124.30" y="413" width="1489.5" height="1" fill="url(#gA)"/>
<rect x="124.30" y="414" width="1505.8" height="1" fill="url(#gA)"/>
<rect x="124.30" y="415" width="1522.3" height="1" fill="url(#gA)"/>
<rect x="124.30" y="416" width="1539.1" height="1" fill="url(#gA)"/>
<rect x="124.30" y="417" width="1556.2" height="1" fill="url(#gA)"/>
<rect x="124.30" y="418" width="1573.6" height="1" fill="url(#gA)"/>
<rect x="124.30" y="419" width="1591.2" height="1" fill="url(#gA)"/>
<rect x="124.30" y="420" width="1609.2" height="1" fill="url(#gA)"/>
<rect x="124.30" y="421" width="1627.4" height="1" fill="url(#gA)"/>
<rect x="124.30" y="422" width="1645.9" height="1" fill="url(#gA)"/>
<rect x="124.30" y="423" width="1664.7" height="1" fill="url(#gA)"/>
<rect x="124.30" y="424" width="1683.8" height="1" fill="url(#gA)"/>
<rect x="124.30" y="425" width="1703.2" height="1" fill="url(#gA)"/>
<rect x="124.30" y="426" width="1722.9" height="1" fill="url(#gA)"/>
<rect x="124.30" y="427" width="1743.0" height="1" fill="url(#gA)"/>
<rect x="124.30" y="428" width="1763.4" height="1" fill="url(#gA)"/>
<rect x="124.30" y="429" width="1784.1" height="1" fill="url(#gA)"/>
<rect x="124.30" y="430" width="1805.1" height="1" fill="url(#gA)"/>
<rect x="124.30" y="431" width="1826.4" height="1" fill="url(#gA)"/>
<rect x="124.30" y="432" width="1848.1" height="1" fill="url(#gA)"/>
<rect x="124.30" y="433" width="1870.2" height="1" fill="url(#gA)"/>
<rect x="124.30" y="434" width="1892.6" height="1" fill="url(#gA)"/>
<rect x="124.30" y="435" width="1915.4" height="1" fill="url(#gA)"/>
<rect x="124.30" y="436" width="1938.5" height="1" fill="url(#gA)"/>
<rect x="124.30" y="437" width="1962.0" height="1" fill="url(#gA)"/>
<rect x="124.30" y="438" width="1985.9" height="1" fill="url(#gA)"/>
<rect x="124.30" y="439" width="2010.2" height="1" fill="url(#gA)"/>
<rect x="124.30" y="440" width="2034.8" height="1" fill="url(#gA)"/>
<rect x="124.30" y="441" width="2059.9" height="1" fill="url(#gA)"/>
<rect x="124.30" y="442" width="2085.3" height="1" fill="url(#gA)"/>
<rect x="124.30" y="443" width="2111.2" height="1" fill="url(#gA)"/>
<rect x="124.30" y="444" width="2137.5" height="1" fill="url(#gA)"/>
<rect x="124.30" y="445" width="2164.2" height="1" fill="url(#gA)"/>
<rect x="124.30" y="446" width="2191.3" height="1" fill="url(#gA)"/>
<rect x="124.30" y="447" width="2218.9" height="1" fill="url(#gA)"/>
<rect x="124.30" y="448" width="2246.9" height="1" fill="url(#gA)"/>
<rect x="124.30" y="449" width="2275.3" height="1" fill="url(#gA)"/>
<rect x="124.30" y="450" width="2304.3" height="1" fill="url(#gA)"/>
<rect x="124.30" y="451" width="2333.6" height="1" fill="url(#gA)"/>
<rect x="124.30" y="452" width="2363.5" height="1" fill="url(#gA)"/>
<rect x="124.30" y="453" width="2393.8" height="1" fill="url(#gA)"/>
<rect x="124.30" y="454" width="2424.6" height="1" fill="url(#gA)"/>
<rect x="124.30" y="455" width="2456.0" height="1" fill="url(#gA)"/>
<rect x="124.30" y="456" width="2487.8" height="1" fill="url(#gA)"/>
<rect x="124.30" y="457" width="2520.1" height="1" fill="url(#gA)"/>
<rect x="124.30" y="458" width="2553.0" height="1" fill="url(#gA)"/>
<rect x="124.30" y="459" width="2586.3" height="1" fill="url(#gA)"/>
<rect x="124.30" y="460" width="2620.2" height="1" fill="url(#gA)"/>
<rect x="124.30" y="461" width="2654.7" height="1" fill="url(#gA)"/>
<rect x="124.30" y="462" width="2689.7" height="1" fill="url(#gA)"/>
<rect x="124.30" y="463" width="2725.3" height="1" fill="url(#gA)"/>
<rect x="124.30" y="464" width="2761.4" height="1" fill="url(#gA)"/>
<rect x="124.30" y="465" width="2798.1" height="1" fill="url(#gA)"/>
<rect x="124.30" y="466" width="2835.5" height="1" fill="url(#gA)"/>
<rect x="124.30" y="467" width="2873.4" height="1" fill="url(#gA)"/>
<rect x="124.30" y="468" width="2911.9" height="1" fill="url(#gA)"/>
<rect x="124.30" y="469" width="2951.0" height="1" fill="url(#gA)"/>
<rect x="124.30" y="470" width="2990.8" height="1" fill="url(#gA)"/>
<rect x="124.30" y="471" width="3031.2" height="1" fill="url(#gA)"/>
<rect x="124.30" y="472" width="3072.3" height="1" fill="url(#gA)"/>
<rect x="124.30" y="473" width="3114.0" height="1" fill="url(#gA)"/>
<rect x="124.30" y="474" width="3156.4" height="1" fill="url(#gA)"/>
<rect x="124.30" y="475" width="3199.4" height="1" fill="url(#gA)"/>
<rect x="124.30" y="476" width="3243.2" height="1" fill="url(#gA)"/>
<rect x="124.30" y="477" width="3287.7" height="1" fill="url(#gA)"/>
<rect x="124.30" y="478" width="3332.8" height="1" fill="url(#gA)"/>
<rect x="124.30" y="479" width="3378.7" height="1" fill="url(#gA)"/>
<rect x="124.30" y="480" width="3425.4" height="1" fill="url(#gA)"/>
<rect x="124.30" y="481" width="3472.8" height="1" fill="url(#gA)"/>
<rect x="124.30" y="482" width="3520.9" height="1" fill="url(#gA)"/>
<rect x="124.30" y="483" width="3569.9" height="1" fill="url(#gA)"/>
<rect x="124.30" y="484" width="3619.6" height="1" fill="url(#gA)"/>
<rect x="124.30" y="485" width="3670.1" height="1" fill="url(#gA)"/>
<rect x="124.30" y="486" width="3721.4" height="1" fill="url(#gA)"/>
<rect x="124.30" y="487" width="3773.5" height="1" fill="url(#gA)"/>
<rect x="124.30" y="488" width="3826.5" height="1" fill="url(#gA)"/>
<rect x="124.30" y="489" width="3880.3" height="1" fill="url(#gA)"/>
<rect x="124.30" y="490" width="3935.0" height="1" fill="url(#gA)"/>
<rect x="124.30" y="491" width="3990.6" height="1" fill="url(#gA)"/>
<rect x="124.30" y="492" width="4047.1" height="1" fill="url(#gA)"/>
<rect x="124.30" y="493" width="4104.5" height="1" fill="url(#gA)"/>
<rect x="124.30" y="494" width="4162.8" height="1" fill="url(#gA)"/>
<rect x="124.30" y="495" width="4222.0" height="1" fill="url(#gA)"/>
<rect x="124.30" y="496" width="4282.2" height="1" fill="url(#gA)"/>
<rect x="124.30" y="497" width="4343.3" height="1" fill="url(#gA)"/>
<rect x="124.30" y="498" width="4405.5" height="1" fill="url(#gA)"/>
<rect x="124.30" y="499" width="4468.6" height="1" fill="url(#gA)"/>
<rect x="124.30" y="500" width="4532.7" height="1" fill="url(#gA)"/>
<rect x="124.30" y="501" width="4597.9" height="1" fill="url(#gA)"/>
<rect x="124.30" y="502" width="4664.1" height="1" fill="url(#gA)"/>
<rect x="124.30" y="503" width="4731.4" height="1" fill="url(#gA)"/>
<rect x="124.30" y="504" width="4799.8" height="1" fill="url(#gA)"/>
<rect x="124.30" y="505" width="4869.3" height="1" fill="url(#gA)"/>
<rect x="124.30" y="506" width="4939.8" height="1" fill="url(#gA)"/>
<rect x="124.30" y="507" width="5011.5" height="1" fill="url(#gA)"/>
<rect x="124.30" y="508" width="5084.4" height="1" fill="url(#gA)"/>
<rect x="124.30" y="509" width="5158.5" height="1" fill="url(#gA)"/>
<rect x="124.30" y="510" width="5233.7" height="1" fill="url(#gA)"/>
<rect x="124.30" y="511" width="5310.1" height="1" fill="url(#gA)"/>
<rect x="124.30" y="512" width="5387.8" height="1" fill="url(#gA)"/>
<rect x="124.30" y="513" width="5466.7" height="1" fill="url(#gA)"/>
<rect x="124.30" y="514" width="5546.9" height="1" fill="url(#gA)"/>
<rect x="124.30" y="515" width="5628.3" height="1" fill="url(#gA)"/>
<rect x="124.30" y="516" width="5711.1" height="1" fill="url(#gA)"/>
<rect x="124.30" y="517" width="5795.2" height="1" fill="url(#gA)"/>
<rect x="124.30" y="518" width="5880.7" height="1" fill="url(#gA)"/>
<rect x="124.30" y="519" width="5967.5" height="1" fill="url(#gA)"/>
<rect x="124.30" y="520" width="6055.7" height="1" fill="url(#gA)"/>
<rect x="124.30" y="521" width="6145.3" height="1" fill="url(#gA)"/>
<rect x="124.30" y="522" width="6236.4" height="1" fill="url(#gA)"/>
<rect x="124.30" y="523" width="6329.0" height="1" fill="url(#gA)"/>
<rect x="124.30" y="524" width="6423.0" height="1" fill="url(#gA)"/>
<rect x="124.30" y="525" width="6518.5" height="1" fill="url(#gA)"/>
<rect x="124.30" y="526" width="6615.6" height="1" fill="url(#gA)"/>
<rect x="124.30" y="527" width="6714.2" height="1" fill="url(#gA)"/>
<rect x="124.30" y="528" width="6814.4" height="1" fill="url(#gA)"/>
<rect x="124.30" y="529" width="6916.3" height="1" fill="url(#gA)"/>
<rect x="124.30" y="530" width="7019.7" height="1" fill="url(#gA)"/>
<rect x="124.30" y="531" width="7124.9" height="1" fill="url(#gA)"/>
<rect x="124.30" y="532" width="7231.7" height="1" fill="url(#gA)"/>
<rect x="124.30" y="533" width="7340.2" height="1" fill="url(#gA)"/>
<rect x="124.30" y="534" width="7450.5" height="1" fill="url(#gA)"/>
<rect x="124.30" y="535" width="7562.5" height="1" fill="url(#gA)"/>
<rect x="124.30" y="536" width="7676.3" height="1" fill="url(#gA)"/>
<rect x="124.30" y="537" width="7792.0" height="1" fill="url(#gA)"/>
<rect x="124.30" y="538" width="7909.5" height="1" fill="url(#gA)"/>
<rect x="124.30" y="539" width="8029.0" height="1" fill="url(#gA)"/>
<rect x="124.30" y="540" width="8150.3" height="1" fill="url(#gA)"/>
<rect x="124.30" y="541" width="8273.6" height="1" fill="url(#gA)"/>
<rect x="124.30" y="542" width="8398.8" height="1" fill="url(#gA)"/>
<rect x="124.30" y="543" width="8526.1" height="1" fill="url(#gA)"/>
<rect x="124.30" y="544" width="8655.4" height="1" fill="url(#gA)"/>
<rect x="124.30" y="545" width="8786.8" height="1" fill="url(#gA)"/>
<rect x="124.30" y="546" width="8920.3" height="1" fill="url(#gA)"/>
<rect x="124.30" y="547" width="9056.0" height="1" fill="url(#gA)"/>
<rect x="124.30" y="548" width="9193.8" height="1" fill="url(#gA)"/>
<rect x="124.30" y="549" width="9333.9" height="1" fill="url(#gA)"/>
<rect x="124.30" y="550" width="9476.2" height="1" fill="url(#gA)"/>
<rect x="124.30" y="551" width="9620.7" height="1" fill="url(#gA)"/>
<rect x="124.30" y="552" width="9767.6" height="1" fill="url(#gA)"/>
<rect x="124.30" y="553" width="9916.9" height="1" fill="url(#gA)"/>
<rect x="124.30" y="554" width="10068.6" height="1" fill="url(#gA)"/>
<rect x="124.30" y="555" width="10222.7" height="1" fill="url(#gA)"/>
<rect x="124.30" y="556" width="10379.2" height="1" fill="url(#gA)"/>
<rect x="124.30" y="557" width="10538.3" height="1" fill="url(#gA)"/>
<rect x="124.30" y="558" width="10700.0" height="1" fill="url(#gA)"/>
<rect x="124.30" y="559" width="10864.2" height="1" fill="url(#gA)"/>
<rect x="124.30" y="560" width="11031.1" height="1" fill="url(#gA)"/>
<rect x="124.30" y="561" width="11200.6" height="1" fill="url(#gA)"/>
<rect x="124.30" y="562" width="11372.9" height="1" fill="url(#gA)"/>
<rect x="124.30" y="563" width="11547.9" height="1" fill="url(#gA)"/>
<rect x="124.30" y="564" width="11725.8" height="1" fill="url(#gA)"/>
<rect x="124.30" y="565" width="11906.5" height="1" fill="url(#gA)"/>
<rect x="124.30" y="566" width="12090.1" height="1" fill="url(#gA)"/>
<rect x="124.30" y="567" width="12276.7" height="1" fill="url(#gA)"/>
<rect x="124.30" y="568" width="12466.3" height="1" fill="url(#gA)"/>
<rect x="124.30" y="569" width="12658.9" height="1" fill="url(#gA)"/>
<rect x="124.30" y="570" width="12854.6" height="1" fill="url(#gA)"/>
<rect x="124.30" y="571" width="13053.4" height="1" fill="url(#gA)"/>
<rect x="124.30" y="572" width="13255.5" height="1" fill="url(#gA)"/>
<rect x="124.30" y="573" width="13460.7" height="1" fill="url(#gA)"/>
<rect x="124.30" y="574" width="13669.3" height="1" fill="url(#gA)"/>
<rect x="124.30" y="575" width="13881.2" height="1" fill="url(#gA)"/>
<rect x="124.30" y="576" width="14096.6" height="1" fill="url(#gA)"/>
<rect x="124.30" y="577" width="14315.4" height="1" fill="url(#gA)"/>
<rect x="124.30" y="578" width="14537.7" height="1" fill="url(#gA)"/>
<rect x="124.30" y="579" width="14763.6" height="1" fill="url(#gA)"/>
<rect x="124.30" y="580" width="14993.1" height="1" fill="url(#gA)"/>
<rect x="124.30" y="581" width="15226.3" height="1" fill="url(#gA)"/>
<rect x="124.30" y="582" width="15463.2" height="1" fill="url(#gA)"/>
<rect x="124.30" y="583" width="15704.0" height="1" fill="url(#gA)"/>
<rect x="124.30" y="584" width="15948.6" height="1" fill="url(#gA)"/>
<rect x="124.30" y="585" width="16197.1" height="1" fill="url(#gA)"/>
<rect x="124.30" y="586" width="16449.6" height="1" fill="url(#gA)"/>
<rect x="124.30" y="587" width="16706.2" height="1" fill="url(#gA)"/>
<rect x="124.30" y="588" width="16967.0" height="1" fill="url(#gA)"/>
<rect x="124.30" y="589" width="17231.9" height="1" fill="url(#gA)"/>
<rect x="124.30" y="590" width="17501.0" height="1" fill="url(#gA)"/>
<rect x="124.30" y="591" width="17774.5" height="1" fill="url(#gA)"/>
<rect x="124.30" y="592" width="18052.4" height="1" fill="url(#gA)"/>
<rect x="124.30" y="593" width="18334.7" height="1" fill="url(#gA)"/>
<rect x="124.30" y="594" width="18621.6" height="1" fill="url(#gA)"/>
<rect x="124.30" y="595" width="18913.0" height="1" fill="url(#gA)"/>
<rect x="124.30" y="596" width="19209.2" height="1" fill="url(#gA)"/>
<rect x="124.30" y="597" width="19510.1" height="1" fill="url(#gA)"/>
<rect x="124.30" y="598" width="19815.9" height="1" fill="url(#gA)"/>
<rect x="124.30" y="599" width="20126.5" height="1" fill="url(#gA)"/>
<rect x="124.30" y="600" width="20442.2" height="1" fill="url(#gA)"/>
<rect x="124.30" y="601" width="20762.9" height="1" fill="url(#gA)"/>
<rect x="124.30" y="602" width="21088.8" height="1" fill="url(#gA)"/>
<rect x="124.30" y="603" width="21419.9" height="1" fill="url(#gA)"/>
<rect x="124.30" y="604" width="21756.3" height="1" fill="url(#gA)"/>
<rect x="124.30" y="605" width="22098.1" height="1" fill="url(#gA)"/>
<rect x="124.30" y="606" width="22445.4" height="1" fill="url(#gA)"/>
<rect x="124.30" y="607" width="22798.3" height="1" fill="url(#gA)"/>
<rect x="124.30" y="608" width="23156.9" height="1" fill="url(#gA)"/>
<rect x="124.30" y="609" width="23521.2" height="1" fill="url(#gA)"/>
<rect x="124.30" y="610" width="23891.4" height="1" fill="url(#gA)"/>
<rect x="124.30" y="611" width="24267.5" height="1" fill="url(#gA)"/>
<rect x="124.30" y="612" width="24649.7" height="1" fill="url(#gA)"/>
<rect x="124.30" y="613" width="25038.0" height="1" fill="url(#gA)"/>
<rect x="124.30" y="614" width="25432.6" height="1" fill="url(#gA)"/>
<rect x="124.30" y="615" width="25833.4" height="1" fill="url(#gA)"/>
<rect x="124.30" y="616" width="26240.7" height="1" fill="url(#gA)"/>
<rect x="124.30" y="617" width="26654.6" height="1" fill="url(#gA)"/>
<rect x="124.30" y="618" width="27075.1" height="1" fill="url(#gA)"/>
<rect x="124.30" y="619" width="27502.4" height="1" fill="url(#gA)"/>
<rect x="124.30" y="620" width="27936.5" height="1" fill="url(#gA)"/>
<rect x="124.30" y="621" width="28377.6" height="1" fill="url(#gA)"/>
<rect x="124.30" y="622" width="28825.8" height="1" fill="url(#gA)"/>
<rect x="124.30" y="623" width="29281.2" height="1" fill="url(#gA)"/>
<rect x="124.30" y="624" width="29743.9" height="1" fill="url(#gA)"/>
<rect x="124.30" y="625" width="30214.0" height="1" fill="url(#gA)"/>
<rect x="124.30" y="626" width="30691.7" height="1" fill="url(#gA)"/>
<rect x="124.30" y="627" width="31177.0" height="1" fill="url(#gA)"/>
<rect x="124.30" y="628" width="31670.2" height="1" fill="url(#gA)"/>
<rect x="124.30" y="629" width="32171.2" height="1" fill="url(#gA)"/>
<rect x="124.30" y="630" width="32680.4" height="1" fill="url(#gA)"/>
<rect x="124.30" y="631" width="33197.7" height="1" fill="url(#gA)"/>
<rect x="124.30" y="632" width="33723.3" height="1" fill="url(#gA)"/>
<rect x="124.30" y="633" width="34257.3" height="1" fill="url(#gA)"/>
<rect x="124.30" y="634" width="34799.9" height="1" fill="url(#gA)"/>
<rect x="124.30" y="635" width="35351.3" height="1" fill="url(#gA)"/>
<rect x="124.30" y="636" width="35911.5" height="1" fill="url(#gA)"/>
<rect x="124.30" y="637" width="36480.7" height="1" fill="url(#gA)"/>
<rect x="124.30" y="638" width="37059.0" height="1" fill="url(#gA)"/>
<rect x="124.30" y="639" width="37646.6" height="1" fill="url(#gA)"/>
<rect x="124.30" y="640" width="38243.7" height="1" fill="url(#gA)"/>
<rect x="124.30" y="641" width="38850.4" height="1" fill="url(#gA)"/>
<rect x="124.30" y="642" width="39466.8" height="1" fill="url(#gA)"/>
<rect x="124.30" y="643" width="40093.1" height="1" fill="url(#gA)"/>
<rect x="124.30" y="644" width="40729.4" height="1" fill="url(#gA)"/>
<rect x="124.30" y="645" width="41376.0" height="1" fill="url(#gA)"/>
<rect x="124.30" y="646" width="42033.0" height="1" fill="url(#gA)"/>
<rect x="124.30" y="647" width="42700.5" height="1" fill="url(#gA)"/>
<rect x="124.30" y="648" width="43378.8" height="1" fill="url(#gA)"/>
<rect x="124.30" y="649" width="44067.9" height="1" fill="url(#gA)"/>
<rect x="124.30" y="650" width="44768.1" height="1" fill="url(#gA)"/>
<rect x="124.30" y="651" width="45479.6" height="1" fill="url(#gA)"/>
<rect x="124.30" y="652" width="46202.5" height="1" fill="url(#gA)"/>
<rect x="124.30" y="653" width="46936.9" height="1" fill="url(#gA)"/>
<rect x="124.30" y="654" width="47683.2" height="1" fill="url(#gA)"/>
</g>
<g stroke="#b0b0b0" stroke-width="1.8" fill="none"><path d="M219.32 76.90V654.90"/><path d="M314.34 76.90V654.90"/><path d="M409.36 76.90V654.90"/><path d="M504.38 76.90V654.90"/><path d="M124.30 510.40H599.40"/><path d="M124.30 365.90H599.40"/><path d="M124.30 221.40H599.40"/></g>
<path d="M134.3 76.9L134.3 79.3L134.3 81.8L134.3 84.2L134.3 86.7L134.3 89.1L134.3 91.6L134.3 94.0L134.3 96.5L134.3 98.9L134.3 101.4L134.3 103.8L134.3 106.3L134.3 108.7L134.3 111.2L134.3 113.6L134.3 116.1L134.3 118.5L134.3 121.0L134.3 123.4L134.3 125.9L134.3 128.3L134.3 130.8L134.4 133.2L134.4 135.7L134.4 138.1L134.4 140.6L134.4 143.0L134.4 145.5L134.4 147.9L134.4 150.4L134.4 152.8L134.4 155.3L134.4 157.7L134.4 160.2L134.4 162.6L134.5 165.1L134.5 167.5L134.5 170.0L134.5 172.4L134.5 174.9L134.5 177.3L134.5 179.8L134.6 182.2L134.6 184.7L134.6 187.1L134.6 189.6L134.6 192.0L134.6 194.5L134.7 196.9L134.7 199.4L134.7 201.8L134.7 204.3L134.8 206.7L134.8 209.2L134.8 211.6L134.8 214.1L134.9 216.5L134.9 219.0L134.9 221.4L135.0 223.9L135.0 226.3L135.0 228.8L135.1 231.2L135.1 233.7L135.2 236.1L135.2 238.6L135.3 241.0L135.3 243.5L135.4 245.9L135.4 248.4L135.5 250.8L135.5 253.3L135.6 255.7L135.6 258.2L135.7 260.6L135.8 263.1L135.8 265.5L135.9 268.0L136.0 270.4L136.1 272.9L136.1 275.3L136.2 277.8L136.3 280.2L136.4 282.7L136.5 285.1L136.6 287.6L136.7 290.0L136.8 292.5L136.9 294.9L137.0 297.4L137.2 299.8L137.3 302.3L137.4 304.7L137.6 307.2L137.7 309.6L137.9 312.1L138.0 314.5L138.2 317.0L138.3 319.4L138.5 321.9L138.7 324.3L138.9 326.8L139.1 329.2L139.3 331.7L139.5 334.1L139.7 336.6L140.0 339.0L140.2 341.5L140.4 343.9L140.7 346.4L141.0 348.8L141.2 351.3L141.5 353.7L141.8 356.2L142.2 358.6L142.5 361.1L142.8 363.5L143.2 366.0L143.5 368.4L143.9 370.9L144.3 373.3L144.7 375.8L145.2 378.2L145.6 380.7L146.1 383.1L146.6 385.6L147.1 388.0L147.6 390.5L148.1 392.9L148.7 395.4L149.3 397.8L149.9 400.3L150.5 402.7L151.2 405.2L151.9 407.6L152.6 410.1L153.3 412.5L154.1 415.0L154.9 417.4L155.7 419.9L156.6 422.3L157.5 424.8L158.4 427.2L159.4 429.7L160.4 432.1L161.5 434.6L162.5 437.0L163.7 439.5L164.9 441.9L166.1 444.4L167.4 446.8L168.7 449.3L170.1 451.7L171.5 454.2L173.0 456.6L174.5 459.1L176.1 461.5L177.8 464.0L179.6 466.4L181.4 468.9L183.2 471.3L185.2 473.8L187.2 476.2L189.3 478.6L191.5 481.1L193.8 483.5L195.8 485.6M264.3 532.8L269.0 535.0L274.3 537.4L279.9 539.9L285.6 542.3L291.6 544.8L297.8 547.2L304.3 549.7L311.0 552.1L318.0 554.6L325.2 557.0L332.8 559.5L340.6 561.9L348.8 564.4L357.3 566.8L366.1 569.3L375.2 571.7L384.7 574.2L394.6 576.6L404.9 579.1L415.6 581.5L426.7 584.0L438.2 586.4L450.2 588.9L462.7 591.3L475.6 593.8L489.1 596.2L503.1 598.7L517.6 601.1L532.7 603.6L548.5 606.0L564.8 608.5L581.8 610.9L599.4 613.4" fill="none" stroke="#000" stroke-width="3.20" clip-path="url(#clA)"/>
<text transform="translate(228.0 512.1) rotate(34.5)" text-anchor="middle" font-size="28.0" fill="#000" y="7.4" textLength="53.2" lengthAdjust="spacingAndGlyphs">8.00</text>
<path d="M178.0 76.9L178.0 78.8L178.0 80.7L178.0 82.6L178.1 84.6L178.1 86.5L178.1 88.4L178.1 90.3L178.1 92.2L178.1 94.1L178.2 96.1L178.2 98.0L178.2 99.9L178.2 101.8L178.3 103.7L178.3 105.6L178.3 107.5L178.3 109.5L178.4 111.4L178.4 113.3L178.4 115.2L178.4 117.1L178.5 119.0L178.5 121.0L178.5 122.9L178.6 124.8L178.6 126.7L178.6 128.6L178.7 130.5L178.7 132.5L178.7 134.4L178.8 136.3L178.8 138.2L178.9 140.1L178.9 142.0L178.9 143.9L179.0 145.9L179.0 147.8L179.1 149.7L179.1 151.6L179.2 153.5L179.2 155.4L179.3 157.4L179.4 159.3L179.4 161.2L179.5 163.1L179.5 165.0L179.6 166.9L179.7 168.8L179.7 170.8L179.8 172.7L179.9 174.6L180.0 176.5L180.0 178.4L180.1 180.3L180.2 182.3L180.3 184.2L180.4 186.1L180.5 188.0L180.6 189.9L180.7 191.8L180.8 193.7L180.9 195.7L181.0 197.6L181.1 199.5L181.2 201.4L181.3 203.3L181.4 205.2L181.6 207.2L181.7 209.1L181.8 211.0L182.0 212.9L182.1 214.8L182.3 216.7L182.4 218.7L182.6 220.6L182.7 222.5L182.9 224.4L183.1 226.3L183.2 228.2L183.4 230.1L183.6 232.1L183.8 234.0L184.0 235.9L184.2 237.8L184.4 239.7L184.6 241.6L184.9 243.6L185.1 245.5L185.3 247.4L185.6 249.3L185.8 251.2L186.1 253.1L186.4 255.0L186.6 257.0L186.9 258.9L187.2 260.8L187.5 262.7L187.8 264.6L188.2 266.5L188.5 268.5L188.9 270.4L189.2 272.3L189.6 274.2L190.0 276.1L190.3 278.0L190.7 279.9L191.2 281.9L191.6 283.8L192.0 285.7L192.5 287.6L193.0 289.5L193.4 291.4L193.9 293.4L194.5 295.3L195.0 297.2L195.5 299.1L196.1 301.0L196.7 302.9L197.3 304.8L197.9 306.8L198.5 308.7L199.2 310.6L199.9 312.5L200.6 314.4L201.3 316.3L202.0 318.3L202.8 320.2L203.6 322.1L204.4 324.0L205.2 325.9L206.1 327.8L207.0 329.8L207.9 331.7L208.9 333.6L209.8 335.5L210.8 337.4L211.9 339.3L213.0 341.2L214.1 343.2L215.2 345.1L216.4 347.0L217.6 348.9L218.8 350.8L220.1 352.7L221.4 354.7L222.8 356.6L224.2 358.5L225.7 360.4L227.2 362.3L228.7 364.2L230.3 366.1L232.0 368.1L233.6 370.0L235.4 371.9L237.2 373.8L239.0 375.7L241.0 377.6L242.9 379.6L245.0 381.5L246.9 383.2M317.6 427.2L318.1 427.4L322.4 429.4L326.9 431.3L331.5 433.2L336.3 435.1L341.2 437.0L346.3 438.9L351.6 440.9L357.0 442.8L362.5 444.7L368.3 446.6L374.2 448.5L380.3 450.4L386.6 452.3L393.1 454.3L399.7 456.2L406.6 458.1L413.7 460.0L421.1 461.9L428.6 463.8L436.4 465.8L444.4 467.7L452.7 469.6L461.2 471.5L470.0 473.4L479.1 475.3L488.4 477.2L498.1 479.2L508.0 481.1L518.2 483.0L528.8 484.9L539.7 486.8L550.9 488.7L562.5 490.7L574.4 492.6L586.7 494.5L599.4 496.4" fill="none" stroke="#000" stroke-width="3.20" clip-path="url(#clA)"/>
<text transform="translate(280.5 408.0) rotate(31.9)" text-anchor="middle" font-size="28.0" fill="#000" y="7.4" textLength="53.2" lengthAdjust="spacingAndGlyphs">3.00</text>
<path d="M274.5 76.9L274.5 78.4L274.6 80.0L274.6 81.5L274.7 83.1L274.7 84.6L274.8 86.1L274.8 87.7L274.9 89.2L274.9 90.8L275.0 92.3L275.0 93.9L275.1 95.4L275.1 96.9L275.2 98.5L275.3 100.0L275.3 101.6L275.4 103.1L275.4 104.6L275.5 106.2L275.6 107.7L275.6 109.3L275.7 110.8L275.8 112.3L275.8 113.9L275.9 115.4L276.0 117.0L276.1 118.5L276.1 120.1L276.2 121.6L276.3 123.1L276.4 124.7L276.5 126.2L276.6 127.8L276.7 129.3L276.7 130.8L276.8 132.4L276.9 133.9L277.0 135.5L277.1 137.0L277.2 138.5L277.3 140.1L277.5 141.6L277.6 143.2L277.7 144.7L277.8 146.2L277.9 147.8L278.0 149.3L278.2 150.9L278.3 152.4L278.4 154.0L278.5 155.5L278.7 157.0L278.8 158.6L279.0 160.1L279.1 161.7L279.3 163.2L279.4 164.7L279.6 166.3L279.7 167.8L279.9 169.4L280.1 170.9L280.2 172.4L280.4 174.0L280.6 175.5L280.8 177.1L281.0 178.6L281.2 180.2L281.4 181.7L281.6 183.2L281.8 184.8L282.0 186.3L282.2 187.9L282.4 189.4L282.7 190.9L282.9 192.5L283.1 194.0L283.4 195.6L283.6 197.1L283.9 198.6L284.1 200.2L284.4 201.7L284.7 203.3L285.0 204.8L285.3 206.4L285.6 207.9L285.9 209.4L286.2 211.0L286.5 212.5L286.8 214.1L287.2 215.6L287.5 217.1L287.9 218.7L288.2 220.2L288.6 221.8L289.0 223.3L289.4 224.8L289.8 226.4L290.2 227.9L290.6 229.5L291.0 231.0L291.5 232.6L291.9 234.1L292.4 235.6L292.9 237.2L293.3 238.7L293.8 240.3L294.3 241.8L294.9 243.3L295.4 244.9L296.0 246.4L296.5 248.0L297.1 249.5L297.7 251.0L298.3 252.6L298.9 254.1L299.5 255.7L300.2 257.2L300.8 258.7L301.5 260.3L302.2 261.8L302.9 263.4L303.7 264.9L304.4 266.5L305.2 268.0L306.0 269.5L306.8 271.1L307.6 272.6L308.5 274.2L309.3 275.7L310.2 277.2L311.1 278.8L312.1 280.3L313.0 281.9L314.0 283.4L315.0 284.9L316.0 286.5L317.1 288.0L318.2 289.6L319.3 291.1L320.4 292.7L321.6 294.2L322.8 295.7L324.0 297.3L325.3 298.8L326.6 300.4L327.9 301.9L329.2 303.4L330.6 305.0L332.0 306.5L333.5 308.1L334.0 308.6M402.2 356.1L405.0 357.4L408.2 358.9L411.6 360.5L415.0 362.0L418.5 363.5L422.1 365.1L425.8 366.6L429.6 368.2L433.5 369.7L437.4 371.2L441.5 372.8L445.7 374.3L449.9 375.9L454.3 377.4L458.8 379.0L463.4 380.5L468.1 382.0L473.0 383.6L477.9 385.1L483.0 386.7L488.2 388.2L493.5 389.7L499.0 391.3L504.6 392.8L510.4 394.4L516.2 395.9L522.3 397.4L528.5 399.0L534.8 400.5L541.3 402.1L547.9 403.6L554.8 405.2L561.8 406.7L568.9 408.2L576.3 409.8L583.8 411.3L591.5 412.9L599.4 414.4" fill="none" stroke="#000" stroke-width="3.20" clip-path="url(#clA)"/>
<text transform="translate(366.0 335.3) rotate(34.8)" text-anchor="middle" font-size="28.0" fill="#000" y="7.4" textLength="53.2" lengthAdjust="spacingAndGlyphs">1.50</text>
<path d="M400.0 251.3L399.9 251.1L399.1 249.8L398.3 248.5L397.5 247.1L396.8 245.8L396.1 244.5L395.3 243.2L394.6 241.9L394.0 240.5L393.3 239.2L392.6 237.9L392.0 236.6L391.4 235.3L390.7 233.9L390.1 232.6L389.5 231.3L389.0 230.0L388.4 228.7L387.8 227.3L387.3 226.0L386.8 224.7L386.2 223.4L385.7 222.1L385.2 220.7L384.7 219.4L384.3 218.1L383.8 216.8L383.3 215.5L382.9 214.1L382.4 212.8L382.0 211.5L381.6 210.2L381.2 208.9L380.8 207.5L380.4 206.2L380.0 204.9L379.6 203.6L379.2 202.3L378.9 200.9L378.5 199.6L378.1 198.3L377.8 197.0L377.5 195.7L377.1 194.3L376.8 193.0L376.5 191.7L376.2 190.4L375.9 189.1L375.6 187.7L375.3 186.4L375.0 185.1L374.7 183.8L374.5 182.5L374.2 181.2L373.9 179.8L373.7 178.5L373.4 177.2L373.2 175.9L372.9 174.6L372.7 173.2L372.5 171.9L372.3 170.6L372.0 169.3L371.8 168.0L371.6 166.6L371.4 165.3L371.2 164.0L371.0 162.7L370.8 161.4L370.6 160.0L370.4 158.7L370.2 157.4L370.1 156.1L369.9 154.8L369.7 153.4L369.5 152.1L369.4 150.8L369.2 149.5L369.1 148.2L368.9 146.8L368.8 145.5L368.6 144.2L368.5 142.9L368.3 141.6L368.2 140.2L368.0 138.9L367.9 137.6L367.8 136.3L367.6 135.0L367.5 133.6L367.4 132.3L367.3 131.0L367.2 129.7L367.0 128.4L366.9 127.0L366.8 125.7L366.7 124.4L366.6 123.1L366.5 121.8L366.4 120.4L366.3 119.1L366.2 117.8L366.1 116.5L366.0 115.2L365.9 113.8L365.8 112.5L365.7 111.2L365.7 109.9L365.6 108.6L365.5 107.3L365.4 105.9L365.3 104.6L365.2 103.3L365.2 102.0L365.1 100.7L365.0 99.3L365.0 98.0L364.9 96.7L364.8 95.4L364.7 94.1L364.7 92.7L364.6 91.4L364.6 90.1L364.5 88.8L364.4 87.5L364.4 86.1L364.3 84.8L364.3 83.5L364.2 82.2L364.1 80.9L364.1 79.5L364.0 78.2L364.0 76.9M599.4 365.9L594.5 364.6L589.6 363.3L584.9 361.9L580.2 360.6L575.7 359.3L571.2 358.0L566.9 356.7L562.6 355.3L558.4 354.0L554.3 352.7L550.3 351.4L546.4 350.1L542.6 348.7L538.8 347.4L535.1 346.1L531.5 344.8L528.0 343.5L524.5 342.1L521.1 340.8L517.8 339.5L514.6 338.2L511.4 336.9L508.3 335.5L505.2 334.2L502.2 332.9L499.3 331.6L496.4 330.3L493.6 329.0L490.9 327.6L488.2 326.3L485.6 325.0L483.0 323.7L480.5 322.4L478.0 321.0L475.6 319.7L473.2 318.4L470.9 317.1L468.6 315.8L466.4 314.4L464.2 313.1L462.1 311.8L460.0 310.5L458.8 309.7" fill="none" stroke="#0000ff" stroke-width="3.20" stroke-dasharray="11.5 5" clip-path="url(#clA)"/>
<text transform="translate(426.0 283.8) rotate(44.8)" text-anchor="middle" font-size="28.0" fill="#0000ff" y="7.4" textLength="53.2" lengthAdjust="spacingAndGlyphs">1.00</text>
<path d="M487.5 76.9L487.6 77.9L487.6 78.9L487.7 79.9L487.8 80.9L487.8 81.8L487.9 82.8L488.0 83.8L488.0 84.8L488.1 85.8L488.2 86.8L488.3 87.8L488.3 88.8L488.4 89.8L488.5 90.8L488.6 91.7L488.6 92.7L488.7 93.7L488.8 94.7L488.9 95.7L489.0 96.7L489.1 97.7L489.1 98.7L489.2 99.7L489.3 100.6L489.4 101.6L489.5 102.6L489.6 103.6L489.7 104.6L489.8 105.6L489.9 106.6L490.0 107.6L490.1 108.6L490.2 109.5L490.3 110.5L490.4 111.5L490.5 112.5L490.6 113.5L490.7 114.5L490.8 115.5L490.9 116.5L491.0 117.5L491.2 118.5L491.3 119.4L491.4 120.4L491.5 121.4L491.6 122.4L491.8 123.4L491.9 124.4L492.0 125.4L492.2 126.4L492.3 127.4L492.4 128.3L492.6 129.3L492.7 130.3L492.8 131.3L493.0 132.3L493.1 133.3L493.3 134.3L493.4 135.3L493.6 136.3L493.7 137.2L493.9 138.2L494.0 139.2L494.2 140.2L494.4 141.2L494.5 142.2L494.7 143.2L494.9 144.2L495.1 145.2L495.2 146.2L495.4 147.1L495.6 148.1L495.8 149.1L496.0 150.1L496.2 151.1L496.4 152.1L496.5 153.1L496.7 154.1L497.0 155.1L497.2 156.0L497.4 157.0L497.6 158.0L497.8 159.0L498.0 160.0L498.2 161.0L498.5 162.0L498.7 163.0L498.9 164.0L499.2 164.9L499.4 165.9L499.6 166.9L499.9 167.9L500.1 168.9L500.4 169.9L500.7 170.9L500.9 171.9L501.2 172.9L501.5 173.9L501.7 174.8L502.0 175.8L502.3 176.8L502.6 177.8L502.8 178.4M542.8 250.9L542.9 251.0L543.9 252.0L544.8 253.0L545.8 254.0L546.7 255.0L547.7 256.0L548.7 257.0L549.7 257.9L550.8 258.9L551.8 259.9L552.9 260.9L554.0 261.9L555.1 262.9L556.2 263.9L557.3 264.9L558.5 265.9L559.7 266.8L560.8 267.8L562.1 268.8L563.3 269.8L564.5 270.8L565.8 271.8L567.1 272.8L568.4 273.8L569.7 274.8L571.1 275.7L572.5 276.7L573.8 277.7L575.3 278.7L576.7 279.7L578.2 280.7L579.6 281.7L581.2 282.7L582.7 283.7L584.2 284.7L585.8 285.6L587.4 286.6L589.1 287.6L590.7 288.6L592.4 289.6L594.1 290.6L595.8 291.6L597.6 292.6L599.4 293.6" fill="none" stroke="#000" stroke-width="3.20" clip-path="url(#clA)"/>
<text transform="translate(518.5 217.0) rotate(61.1)" text-anchor="middle" font-size="28.0" fill="#000" y="7.4" textLength="53.2" lengthAdjust="spacingAndGlyphs">0.60</text>
<path d="M572.1 76.9L572.1 77.5L572.2 78.0L572.2 78.6L572.3 79.1L572.3 79.7L572.4 80.2L572.4 80.8L572.5 81.3L572.5 81.9L572.6 82.4L572.6 83.0L572.7 83.5L572.7 84.1L572.8 84.6L572.8 85.2L572.9 85.7L572.9 86.3L573.0 86.8L573.0 87.4L573.1 87.9L573.1 88.5L573.2 89.0L573.2 89.6L573.3 90.1L573.4 90.7L573.4 91.2L573.5 91.8L573.5 92.3L573.6 92.9L573.6 93.4L573.7 94.0L573.7 94.5L573.8 95.1L573.9 95.6L573.9 96.2L574.0 96.7L574.0 97.0M591.3 178.5L591.4 178.7L591.6 179.2L591.8 179.8L592.0 180.3L592.2 180.9L592.4 181.4L592.6 182.0L592.8 182.5L593.0 183.1L593.3 183.6L593.5 184.2L593.7 184.7L593.9 185.3L594.2 185.8L594.4 186.4L594.6 186.9L594.9 187.5L595.1 188.0L595.3 188.6L595.6 189.1L595.8 189.7L596.0 190.2L596.3 190.8L596.5 191.3L596.8 191.9L597.0 192.4L597.3 193.0L597.5 193.5L597.8 194.1L598.1 194.6L598.3 195.2L598.6 195.7L598.9 196.3L599.1 196.8L599.4 197.4" fill="none" stroke="#000" stroke-width="3.20" clip-path="url(#clA)"/>
<text transform="translate(580.2 138.3) rotate(78.0)" text-anchor="middle" font-size="28.0" fill="#000" y="7.4" textLength="53.2" lengthAdjust="spacingAndGlyphs">0.40</text>
<g clip-path="url(#clB)" shape-rendering="crispEdges">
<rect x="122.80" y="852" width="473.6" height="1" fill="url(#gB)"/>
<rect x="122.80" y="853" width="473.6" height="1" fill="url(#gB)"/>
<rect x="122.80" y="854" width="473.7" height="1" fill="url(#gB)"/>
<rect x="122.80" y="855" width="473.8" height="1" fill="url(#gB)"/>
<rect x="122.80" y="856" width="473.9" height="1" fill="url(#gB)"/>
<rect x="122.80" y="857" width="474.0" height="1" fill="url(#gB)"/>
<rect x="122.80" y="858" width="474.0" height="1" fill="url(#gB)"/>
<rect x="122.80" y="859" width="474.1" height="1" fill="url(#gB)"/>
<rect x="122.80" y="860" width="474.2" height="1" fill="url(#gB)"/>
<rect x="122.80" y="861" width="474.3" height="1" fill="url(#gB)"/>
<rect x="122.80" y="862" width="474.4" height="1" fill="url(#gB)"/>
<rect x="122.80" y="863" width="474.5" height="1" fill="url(#gB)"/>
<rect x="122.80" y="864" width="474.6" height="1" fill="url(#gB)"/>
<rect x="122.80" y="865" width="474.7" height="1" fill="url(#gB)"/>
<rect x="122.80" y="866" width="474.8" height="1" fill="url(#gB)"/>
<rect x="122.80" y="867" width="474.9" height="1" fill="url(#gB)"/>
<rect x="122.80" y="868" width="475.0" height="1" fill="url(#gB)"/>
<rect x="122.80" y="869" width="475.0" height="1" fill="url(#gB)"/>
<rect x="122.80" y="870" width="475.1" height="1" fill="url(#gB)"/>
<rect x="122.80" y="871" width="475.3" height="1" fill="url(#gB)"/>
<rect x="122.80" y="872" width="475.4" height="1" fill="url(#gB)"/>
<rect x="122.80" y="873" width="475.5" height="1" fill="url(#gB)"/>
<rect x="122.80" y="874" width="475.6" height="1" fill="url(#gB)"/>
<rect x="122.80" y="875" width="475.7" height="1" fill="url(#gB)"/>
<rect x="122.80" y="876" width="475.8" height="1" fill="url(#gB)"/>
<rect x="122.80" y="877" width="475.9" height="1" fill="url(#gB)"/>
<rect x="122.80" y="878" width="476.0" height="1" fill="url(#gB)"/>
<rect x="122.80" y="879" width="476.1" height="1" fill="url(#gB)"/>
<rect x="122.80" y="880" width="476.2" height="1" fill="url(#gB)"/>
<rect x="122.80" y="881" width="476.4" height="1" fill="url(#gB)"/>
<rect x="122.80" y="882" width="476.5" height="1" fill="url(#gB)"/>
<rect x="122.80" y="883" width="476.6" height="1" fill="url(#gB)"/>
<rect x="122.80" y="884" width="476.7" height="1" fill="url(#gB)"/>
<rect x="122.80" y="885" width="476.9" height="1" fill="url(#gB)"/>
<rect x="122.80" y="886" width="477.0" height="1" fill="url(#gB)"/>
<rect x="122.80" y="887" width="477.1" height="1" fill="url(#gB)"/>
<rect x="122.80" y="888" width="477.3" height="1" fill="url(#gB)"/>
<rect x="122.80" y="889" width="477.4" height="1" fill="url(#gB)"/>
<rect x="122.80" y="890" width="477.5" height="1" fill="url(#gB)"/>
<rect x="122.80" y="891" width="477.7" height="1" fill="url(#gB)"/>
<rect x="122.80" y="892" width="477.8" height="1" fill="url(#gB)"/>
<rect x="122.80" y="893" width="478.0" height="1" fill="url(#gB)"/>
<rect x="122.80" y="894" width="478.1" height="1" fill="url(#gB)"/>
<rect x="122.80" y="895" width="478.3" height="1" fill="url(#gB)"/>
<rect x="122.80" y="896" width="478.4" height="1" fill="url(#gB)"/>
<rect x="122.80" y="897" width="478.6" height="1" fill="url(#gB)"/>
<rect x="122.80" y="898" width="478.7" height="1" fill="url(#gB)"/>
<rect x="122.80" y="899" width="478.9" height="1" fill="url(#gB)"/>
<rect x="122.80" y="900" width="479.0" height="1" fill="url(#gB)"/>
<rect x="122.80" y="901" width="479.2" height="1" fill="url(#gB)"/>
<rect x="122.80" y="902" width="479.4" height="1" fill="url(#gB)"/>
<rect x="122.80" y="903" width="479.5" height="1" fill="url(#gB)"/>
<rect x="122.80" y="904" width="479.7" height="1" fill="url(#gB)"/>
<rect x="122.80" y="905" width="479.9" height="1" fill="url(#gB)"/>
<rect x="122.80" y="906" width="480.1" height="1" fill="url(#gB)"/>
<rect x="122.80" y="907" width="480.3" height="1" fill="url(#gB)"/>
<rect x="122.80" y="908" width="480.4" height="1" fill="url(#gB)"/>
<rect x="122.80" y="909" width="480.6" height="1" fill="url(#gB)"/>
<rect x="122.80" y="910" width="480.8" height="1" fill="url(#gB)"/>
<rect x="122.80" y="911" width="481.0" height="1" fill="url(#gB)"/>
<rect x="122.80" y="912" width="481.2" height="1" fill="url(#gB)"/>
<rect x="122.80" y="913" width="481.4" height="1" fill="url(#gB)"/>
<rect x="122.80" y="914" width="481.6" height="1" fill="url(#gB)"/>
<rect x="122.80" y="915" width="481.8" height="1" fill="url(#gB)"/>
<rect x="122.80" y="916" width="482.0" height="1" fill="url(#gB)"/>
<rect x="122.80" y="917" width="482.2" height="1" fill="url(#gB)"/>
<rect x="122.80" y="918" width="482.5" height="1" fill="url(#gB)"/>
<rect x="122.80" y="919" width="482.7" height="1" fill="url(#gB)"/>
<rect x="122.80" y="920" width="482.9" height="1" fill="url(#gB)"/>
<rect x="122.80" y="921" width="483.1" height="1" fill="url(#gB)"/>
<rect x="122.80" y="922" width="483.4" height="1" fill="url(#gB)"/>
<rect x="122.80" y="923" width="483.6" height="1" fill="url(#gB)"/>
<rect x="122.80" y="924" width="483.8" height="1" fill="url(#gB)"/>
<rect x="122.80" y="925" width="484.1" height="1" fill="url(#gB)"/>
<rect x="122.80" y="926" width="484.3" height="1" fill="url(#gB)"/>
<rect x="122.80" y="927" width="484.6" height="1" fill="url(#gB)"/>
<rect x="122.80" y="928" width="484.8" height="1" fill="url(#gB)"/>
<rect x="122.80" y="929" width="485.1" height="1" fill="url(#gB)"/>
<rect x="122.80" y="930" width="485.4" height="1" fill="url(#gB)"/>
<rect x="122.80" y="931" width="485.6" height="1" fill="url(#gB)"/>
<rect x="122.80" y="932" width="485.9" height="1" fill="url(#gB)"/>
<rect x="122.80" y="933" width="486.2" height="1" fill="url(#gB)"/>
<rect x="122.80" y="934" width="486.5" height="1" fill="url(#gB)"/>
<rect x="122.80" y="935" width="486.7" height="1" fill="url(#gB)"/>
<rect x="122.80" y="936" width="487.0" height="1" fill="url(#gB)"/>
<rect x="122.80" y="937" width="487.3" height="1" fill="url(#gB)"/>
<rect x="122.80" y="938" width="487.6" height="1" fill="url(#gB)"/>
<rect x="122.80" y="939" width="487.9" height="1" fill="url(#gB)"/>
<rect x="122.80" y="940" width="488.2" height="1" fill="url(#gB)"/>
<rect x="122.80" y="941" width="488.6" height="1" fill="url(#gB)"/>
<rect x="122.80" y="942" width="488.9" height="1" fill="url(#gB)"/>
<rect x="122.80" y="943" width="489.2" height="1" fill="url(#gB)"/>
<rect x="122.80" y="944" width="489.5" height="1" fill="url(#gB)"/>
<rect x="122.80" y="945" width="489.9" height="1" fill="url(#gB)"/>
<rect x="122.80" y="946" width="490.2" height="1" fill="url(#gB)"/>
<rect x="122.80" y="947" width="490.6" height="1" fill="url(#gB)"/>
<rect x="122.80" y="948" width="490.9" height="1" fill="url(#gB)"/>
<rect x="122.80" y="949" width="491.3" height="1" fill="url(#gB)"/>
<rect x="122.80" y="950" width="491.6" height="1" fill="url(#gB)"/>
<rect x="122.80" y="951" width="492.0" height="1" fill="url(#gB)"/>
<rect x="122.80" y="952" width="492.4" height="1" fill="url(#gB)"/>
<rect x="122.80" y="953" width="492.8" height="1" fill="url(#gB)"/>
<rect x="122.80" y="954" width="493.2" height="1" fill="url(#gB)"/>
<rect x="122.80" y="955" width="493.5" height="1" fill="url(#gB)"/>
<rect x="122.80" y="956" width="493.9" height="1" fill="url(#gB)"/>
<rect x="122.80" y="957" width="494.4" height="1" fill="url(#gB)"/>
<rect x="122.80" y="958" width="494.8" height="1" fill="url(#gB)"/>
<rect x="122.80" y="959" width="495.2" height="1" fill="url(#gB)"/>
<rect x="122.80" y="960" width="495.6" height="1" fill="url(#gB)"/>
<rect x="122.80" y="961" width="496.1" height="1" fill="url(#gB)"/>
<rect x="122.80" y="962" width="496.5" height="1" fill="url(#gB)"/>
<rect x="122.80" y="963" width="496.9" height="1" fill="url(#gB)"/>
<rect x="122.80" y="964" width="497.4" height="1" fill="url(#gB)"/>
<rect x="122.80" y="965" width="497.9" height="1" fill="url(#gB)"/>
<rect x="122.80" y="966" width="498.3" height="1" fill="url(#gB)"/>
<rect x="122.80" y="967" width="498.8" height="1" fill="url(#gB)"/>
<rect x="122.80" y="968" width="499.3" height="1" fill="url(#gB)"/>
<rect x="122.80" y="969" width="499.8" height="1" fill="url(#gB)"/>
<rect x="122.80" y="970" width="500.3" height="1" fill="url(#gB)"/>
<rect x="122.80" y="971" width="500.8" height="1" fill="url(#gB)"/>
<rect x="122.80" y="972" width="501.3" height="1" fill="url(#gB)"/>
<rect x="122.80" y="973" width="501.9" height="1" fill="url(#gB)"/>
<rect x="122.80" y="974" width="502.4" height="1" fill="url(#gB)"/>
<rect x="122.80" y="975" width="502.9" height="1" fill="url(#gB)"/>
<rect x="122.80" y="976" width="503.5" height="1" fill="url(#gB)"/>
<rect x="122.80" y="977" width="504.1" height="1" fill="url(#gB)"/>
<rect x="122.80" y="978" width="504.6" height="1" fill="url(#gB)"/>
<rect x="122.80" y="979" width="505.2" height="1" fill="url(#gB)"/>
<rect x="122.80" y="980" width="505.8" height="1" fill="url(#gB)"/>
<rect x="122.80" y="981" width="506.4" height="1" fill="url(#gB)"/>
<rect x="122.80" y="982" width="507.0" height="1" fill="url(#gB)"/>
<rect x="122.80" y="983" width="507.6" height="1" fill="url(#gB)"/>
<rect x="122.80" y="984" width="508.3" height="1" fill="url(#gB)"/>
<rect x="122.80" y="985" width="508.9" height="1" fill="url(#gB)"/>
<rect x="122.80" y="986" width="509.5" height="1" fill="url(#gB)"/>
<rect x="122.80" y="987" width="510.2" height="1" fill="url(#gB)"/>
<rect x="122.80" y="988" width="510.9" height="1" fill="url(#gB)"/>
<rect x="122.80" y="989" width="511.6" height="1" fill="url(#gB)"/>
<rect x="122.80" y="990" width="512.3" height="1" fill="url(#gB)"/>
<rect x="122.80" y="991" width="513.0" height="1" fill="url(#gB)"/>
<rect x="122.80" y="992" width="513.7" height="1" fill="url(#gB)"/>
<rect x="122.80" y="993" width="514.4" height="1" fill="url(#gB)"/>
<rect x="122.80" y="994" width="515.2" height="1" fill="url(#gB)"/>
<rect x="122.80" y="995" width="515.9" height="1" fill="url(#gB)"/>
<rect x="122.80" y="996" width="516.7" height="1" fill="url(#gB)"/>
<rect x="122.80" y="997" width="517.4" height="1" fill="url(#gB)"/>
<rect x="122.80" y="998" width="518.2" height="1" fill="url(#gB)"/>
<rect x="122.80" y="999" width="519.0" height="1" fill="url(#gB)"/>
<rect x="122.80" y="1000" width="519.9" height="1" fill="url(#gB)"/>
<rect x="122.80" y="1001" width="520.7" height="1" fill="url(#gB)"/>
<rect x="122.80" y="1002" width="521.5" height="1" fill="url(#gB)"/>
<rect x="122.80" y="1003" width="522.4" height="1" fill="url(#gB)"/>
<rect x="122.80" y="1004" width="523.3" height="1" fill="url(#gB)"/>
<rect x="122.80" y="1005" width="524.1" height="1" fill="url(#gB)"/>
<rect x="122.80" y="1006" width="525.0" height="1" fill="url(#gB)"/>
<rect x="122.80" y="1007" width="525.9" height="1" fill="url(#gB)"/>
<rect x="122.80" y="1008" width="526.9" height="1" fill="url(#gB)"/>
<rect x="122.80" y="1009" width="527.8" height="1" fill="url(#gB)"/>
<rect x="122.80" y="1010" width="528.8" height="1" fill="url(#gB)"/>
<rect x="122.80" y="1011" width="529.8" height="1" fill="url(#gB)"/>
<rect x="122.80" y="1012" width="530.7" height="1" fill="url(#gB)"/>
<rect x="122.80" y="1013" width="531.8" height="1" fill="url(#gB)"/>
<rect x="122.80" y="1014" width="532.8" height="1" fill="url(#gB)"/>
<rect x="122.80" y="1015" width="533.8" height="1" fill="url(#gB)"/>
<rect x="122.80" y="1016" width="534.9" height="1" fill="url(#gB)"/>
<rect x="122.80" y="1017" width="535.9" height="1" fill="url(#gB)"/>
<rect x="122.80" y="1018" width="537.0" height="1" fill="url(#gB)"/>
<rect x="122.80" y="1019" width="538.1" height="1" fill="url(#gB)"/>
<rect x="122.80" y="1020" width="539.3" height="1" fill="url(#gB)"/>
<rect x="122.80" y="1021" width="540.4" height="1" fill="url(#gB)"/>
<rect x="122.80" y="1022" width="541.6" height="1" fill="url(#gB)"/>
<rect x="122.80" y="1023" width="542.8" height="1" fill="url(#gB)"/>
<rect x="122.80" y="1024" width="544.0" height="1" fill="url(#gB)"/>
<rect x="122.80" y="1025" width="545.2" height="1" fill="url(#gB)"/>
<rect x="122.80" y="1026" width="546.4" height="1" fill="url(#gB)"/>
<rect x="122.80" y="1027" width="547.7" height="1" fill="url(#gB)"/>
<rect x="122.80" y="1028" width="549.0" height="1" fill="url(#gB)"/>
<rect x="122.80" y="1029" width="550.3" height="1" fill="url(#gB)"/>
<rect x="122.80" y="1030" width="551.6" height="1" fill="url(#gB)"/>
<rect x="122.80" y="1031" width="552.9" height="1" fill="url(#gB)"/>
<rect x="122.80" y="1032" width="554.3" height="1" fill="url(#gB)"/>
<rect x="122.80" y="1033" width="555.7" height="1" fill="url(#gB)"/>
<rect x="122.80" y="1034" width="557.1" height="1" fill="url(#gB)"/>
<rect x="122.80" y="1035" width="558.5" height="1" fill="url(#gB)"/>
<rect x="122.80" y="1036" width="560.0" height="1" fill="url(#gB)"/>
<rect x="122.80" y="1037" width="561.5" height="1" fill="url(#gB)"/>
<rect x="122.80" y="1038" width="563.0" height="1" fill="url(#gB)"/>
<rect x="122.80" y="1039" width="564.5" height="1" fill="url(#gB)"/>
<rect x="122.80" y="1040" width="566.1" height="1" fill="url(#gB)"/>
<rect x="122.80" y="1041" width="567.7" height="1" fill="url(#gB)"/>
<rect x="122.80" y="1042" width="569.3" height="1" fill="url(#gB)"/>
<rect x="122.80" y="1043" width="570.9" height="1" fill="url(#gB)"/>
<rect x="122.80" y="1044" width="572.6" height="1" fill="url(#gB)"/>
<rect x="122.80" y="1045" width="574.3" height="1" fill="url(#gB)"/>
<rect x="122.80" y="1046" width="576.0" height="1" fill="url(#gB)"/>
<rect x="122.80" y="1047" width="577.7" height="1" fill="url(#gB)"/>
<rect x="122.80" y="1048" width="579.5" height="1" fill="url(#gB)"/>
<rect x="122.80" y="1049" width="581.3" height="1" fill="url(#gB)"/>
<rect x="122.80" y="1050" width="583.1" height="1" fill="url(#gB)"/>
<rect x="122.80" y="1051" width="585.0" height="1" fill="url(#gB)"/>
<rect x="122.80" y="1052" width="586.9" height="1" fill="url(#gB)"/>
<rect x="122.80" y="1053" width="588.8" height="1" fill="url(#gB)"/>
<rect x="122.80" y="1054" width="590.7" height="1" fill="url(#gB)"/>
<rect x="122.80" y="1055" width="592.7" height="1" fill="url(#gB)"/>
<rect x="122.80" y="1056" width="594.7" height="1" fill="url(#gB)"/>
<rect x="122.80" y="1057" width="596.8" height="1" fill="url(#gB)"/>
<rect x="122.80" y="1058" width="598.8" height="1" fill="url(#gB)"/>
<rect x="122.80" y="1059" width="601.0" height="1" fill="url(#gB)"/>
<rect x="122.80" y="1060" width="603.1" height="1" fill="url(#gB)"/>
<rect x="122.80" y="1061" width="605.3" height="1" fill="url(#gB)"/>
<rect x="122.80" y="1062" width="607.5" height="1" fill="url(#gB)"/>
<rect x="122.80" y="1063" width="609.8" height="1" fill="url(#gB)"/>
<rect x="122.80" y="1064" width="612.1" height="1" fill="url(#gB)"/>
<rect x="122.80" y="1065" width="614.4" height="1" fill="url(#gB)"/>
<rect x="122.80" y="1066" width="616.8" height="1" fill="url(#gB)"/>
<rect x="122.80" y="1067" width="619.2" height="1" fill="url(#gB)"/>
<rect x="122.80" y="1068" width="621.6" height="1" fill="url(#gB)"/>
<rect x="122.80" y="1069" width="624.1" height="1" fill="url(#gB)"/>
<rect x="122.80" y="1070" width="626.6" height="1" fill="url(#gB)"/>
<rect x="122.80" y="1071" width="629.2" height="1" fill="url(#gB)"/>
<rect x="122.80" y="1072" width="631.8" height="1" fill="url(#gB)"/>
<rect x="122.80" y="1073" width="634.4" height="1" fill="url(#gB)"/>
<rect x="122.80" y="1074" width="637.1" height="1" fill="url(#gB)"/>
<rect x="122.80" y="1075" width="639.9" height="1" fill="url(#gB)"/>
<rect x="122.80" y="1076" width="642.7" height="1" fill="url(#gB)"/>
<rect x="122.80" y="1077" width="645.5" height="1" fill="url(#gB)"/>
<rect x="122.80" y="1078" width="648.4" height="1" fill="url(#gB)"/>
<rect x="122.80" y="1079" width="651.3" height="1" fill="url(#gB)"/>
<rect x="122.80" y="1080" width="654.3" height="1" fill="url(#gB)"/>
<rect x="122.80" y="1081" width="657.3" height="1" fill="url(#gB)"/>
<rect x="122.80" y="1082" width="660.3" height="1" fill="url(#gB)"/>
<rect x="122.80" y="1083" width="663.4" height="1" fill="url(#gB)"/>
<rect x="122.80" y="1084" width="666.6" height="1" fill="url(#gB)"/>
<rect x="122.80" y="1085" width="669.8" height="1" fill="url(#gB)"/>
<rect x="122.80" y="1086" width="673.1" height="1" fill="url(#gB)"/>
<rect x="122.80" y="1087" width="676.4" height="1" fill="url(#gB)"/>
<rect x="122.80" y="1088" width="679.8" height="1" fill="url(#gB)"/>
<rect x="122.80" y="1089" width="683.2" height="1" fill="url(#gB)"/>
<rect x="122.80" y="1090" width="686.7" height="1" fill="url(#gB)"/>
<rect x="122.80" y="1091" width="690.3" height="1" fill="url(#gB)"/>
<rect x="122.80" y="1092" width="693.9" height="1" fill="url(#gB)"/>
<rect x="122.80" y="1093" width="697.5" height="1" fill="url(#gB)"/>
<rect x="122.80" y="1094" width="701.2" height="1" fill="url(#gB)"/>
<rect x="122.80" y="1095" width="705.0" height="1" fill="url(#gB)"/>
<rect x="122.80" y="1096" width="708.9" height="1" fill="url(#gB)"/>
<rect x="122.80" y="1097" width="712.8" height="1" fill="url(#gB)"/>
<rect x="122.80" y="1098" width="716.7" height="1" fill="url(#gB)"/>
<rect x="122.80" y="1099" width="720.8" height="1" fill="url(#gB)"/>
<rect x="122.80" y="1100" width="724.9" height="1" fill="url(#gB)"/>
<rect x="122.80" y="1101" width="729.0" height="1" fill="url(#gB)"/>
<rect x="122.80" y="1102" width="733.3" height="1" fill="url(#gB)"/>
<rect x="122.80" y="1103" width="737.6" height="1" fill="url(#gB)"/>
<rect x="122.80" y="1104" width="741.9" height="1" fill="url(#gB)"/>
<rect x="122.80" y="1105" width="746.4" height="1" fill="url(#gB)"/>
<rect x="122.80" y="1106" width="750.9" height="1" fill="url(#gB)"/>
<rect x="122.80" y="1107" width="755.5" height="1" fill="url(#gB)"/>
<rect x="122.80" y="1108" width="760.2" height="1" fill="url(#gB)"/>
<rect x="122.80" y="1109" width="764.9" height="1" fill="url(#gB)"/>
<rect x="122.80" y="1110" width="769.7" height="1" fill="url(#gB)"/>
<rect x="122.80" y="1111" width="774.6" height="1" fill="url(#gB)"/>
<rect x="122.80" y="1112" width="779.6" height="1" fill="url(#gB)"/>
<rect x="122.80" y="1113" width="784.6" height="1" fill="url(#gB)"/>
<rect x="122.80" y="1114" width="789.8" height="1" fill="url(#gB)"/>
<rect x="122.80" y="1115" width="795.0" height="1" fill="url(#gB)"/>
<rect x="122.80" y="1116" width="800.3" height="1" fill="url(#gB)"/>
<rect x="122.80" y="1117" width="805.7" height="1" fill="url(#gB)"/>
<rect x="122.80" y="1118" width="811.2" height="1" fill="url(#gB)"/>
<rect x="122.80" y="1119" width="816.8" height="1" fill="url(#gB)"/>
<rect x="122.80" y="1120" width="822.4" height="1" fill="url(#gB)"/>
<rect x="122.80" y="1121" width="828.2" height="1" fill="url(#gB)"/>
<rect x="122.80" y="1122" width="834.0" height="1" fill="url(#gB)"/>
<rect x="122.80" y="1123" width="840.0" height="1" fill="url(#gB)"/>
<rect x="122.80" y="1124" width="846.0" height="1" fill="url(#gB)"/>
<rect x="122.80" y="1125" width="852.1" height="1" fill="url(#gB)"/>
<rect x="122.80" y="1126" width="858.4" height="1" fill="url(#gB)"/>
<rect x="122.80" y="1127" width="864.7" height="1" fill="url(#gB)"/>
<rect x="122.80" y="1128" width="871.1" height="1" fill="url(#gB)"/>
<rect x="122.80" y="1129" width="877.7" height="1" fill="url(#gB)"/>
<rect x="122.80" y="1130" width="884.3" height="1" fill="url(#gB)"/>
<rect x="122.80" y="1131" width="891.1" height="1" fill="url(#gB)"/>
<rect x="122.80" y="1132" width="898.0" height="1" fill="url(#gB)"/>
<rect x="122.80" y="1133" width="904.9" height="1" fill="url(#gB)"/>
<rect x="122.80" y="1134" width="912.0" height="1" fill="url(#gB)"/>
<rect x="122.80" y="1135" width="919.3" height="1" fill="url(#gB)"/>
<rect x="122.80" y="1136" width="926.6" height="1" fill="url(#gB)"/>
<rect x="122.80" y="1137" width="934.0" height="1" fill="url(#gB)"/>
<rect x="122.80" y="1138" width="941.6" height="1" fill="url(#gB)"/>
<rect x="122.80" y="1139" width="949.3" height="1" fill="url(#gB)"/>
<rect x="122.80" y="1140" width="957.1" height="1" fill="url(#gB)"/>
<rect x="122.80" y="1141" width="965.1" height="1" fill="url(#gB)"/>
<rect x="122.80" y="1142" width="973.1" height="1" fill="url(#gB)"/>
<rect x="122.80" y="1143" width="981.3" height="1" fill="url(#gB)"/>
<rect x="122.80" y="1144" width="989.7" height="1" fill="url(#gB)"/>
<rect x="122.80" y="1145" width="998.1" height="1" fill="url(#gB)"/>
<rect x="122.80" y="1146" width="1006.8" height="1" fill="url(#gB)"/>
<rect x="122.80" y="1147" width="1015.5" height="1" fill="url(#gB)"/>
<rect x="122.80" y="1148" width="1024.4" height="1" fill="url(#gB)"/>
<rect x="122.80" y="1149" width="1033.4" height="1" fill="url(#gB)"/>
<rect x="122.80" y="1150" width="1042.6" height="1" fill="url(#gB)"/>
<rect x="122.80" y="1151" width="1052.0" height="1" fill="url(#gB)"/>
<rect x="122.80" y="1152" width="1061.5" height="1" fill="url(#gB)"/>
<rect x="122.80" y="1153" width="1071.1" height="1" fill="url(#gB)"/>
<rect x="122.80" y="1154" width="1080.9" height="1" fill="url(#gB)"/>
<rect x="122.80" y="1155" width="1090.9" height="1" fill="url(#gB)"/>
<rect x="122.80" y="1156" width="1101.0" height="1" fill="url(#gB)"/>
<rect x="122.80" y="1157" width="1111.3" height="1" fill="url(#gB)"/>
<rect x="122.80" y="1158" width="1121.7" height="1" fill="url(#gB)"/>
<rect x="122.80" y="1159" width="1132.3" height="1" fill="url(#gB)"/>
<rect x="122.80" y="1160" width="1143.1" height="1" fill="url(#gB)"/>
<rect x="122.80" y="1161" width="1154.1" height="1" fill="url(#gB)"/>
<rect x="122.80" y="1162" width="1165.3" height="1" fill="url(#gB)"/>
<rect x="122.80" y="1163" width="1176.6" height="1" fill="url(#gB)"/>
<rect x="122.80" y="1164" width="1188.1" height="1" fill="url(#gB)"/>
<rect x="122.80" y="1165" width="1199.8" height="1" fill="url(#gB)"/>
<rect x="122.80" y="1166" width="1211.7" height="1" fill="url(#gB)"/>
<rect x="122.80" y="1167" width="1223.8" height="1" fill="url(#gB)"/>
<rect x="122.80" y="1168" width="1236.1" height="1" fill="url(#gB)"/>
<rect x="122.80" y="1169" width="1248.6" height="1" fill="url(#gB)"/>
<rect x="122.80" y="1170" width="1261.2" height="1" fill="url(#gB)"/>
<rect x="122.80" y="1171" width="1274.1" height="1" fill="url(#gB)"/>
<rect x="122.80" y="1172" width="1287.2" height="1" fill="url(#gB)"/>
<rect x="122.80" y="1173" width="1300.6" height="1" fill="url(#gB)"/>
<rect x="122.80" y="1174" width="1314.1" height="1" fill="url(#gB)"/>
<rect x="122.80" y="1175" width="1327.8" height="1" fill="url(#gB)"/>
<rect x="122.80" y="1176" width="1341.8" height="1" fill="url(#gB)"/>
<rect x="122.80" y="1177" width="1356.0" height="1" fill="url(#gB)"/>
<rect x="122.80" y="1178" width="1370.5" height="1" fill="url(#gB)"/>
<rect x="122.80" y="1179" width="1385.1" height="1" fill="url(#gB)"/>
<rect x="122.80" y="1180" width="1400.0" height="1" fill="url(#gB)"/>
<rect x="122.80" y="1181" width="1415.2" height="1" fill="url(#gB)"/>
<rect x="122.80" y="1182" width="1430.6" height="1" fill="url(#gB)"/>
<rect x="122.80" y="1183" width="1446.2" height="1" fill="url(#gB)"/>
<rect x="122.80" y="1184" width="1462.1" height="1" fill="url(#gB)"/>
<rect x="122.80" y="1185" width="1478.3" height="1" fill="url(#gB)"/>
<rect x="122.80" y="1186" width="1494.7" height="1" fill="url(#gB)"/>
<rect x="122.80" y="1187" width="1511.4" height="1" fill="url(#gB)"/>
<rect x="122.80" y="1188" width="1528.4" height="1" fill="url(#gB)"/>
<rect x="122.80" y="1189" width="1545.6" height="1" fill="url(#gB)"/>
<rect x="122.80" y="1190" width="1563.1" height="1" fill="url(#gB)"/>
<rect x="122.80" y="1191" width="1580.9" height="1" fill="url(#gB)"/>
<rect x="122.80" y="1192" width="1599.0" height="1" fill="url(#gB)"/>
<rect x="122.80" y="1193" width="1617.4" height="1" fill="url(#gB)"/>
<rect x="122.80" y="1194" width="1636.1" height="1" fill="url(#gB)"/>
<rect x="122.80" y="1195" width="1655.1" height="1" fill="url(#gB)"/>
<rect x="122.80" y="1196" width="1674.4" height="1" fill="url(#gB)"/>
<rect x="122.80" y="1197" width="1694.0" height="1" fill="url(#gB)"/>
<rect x="122.80" y="1198" width="1714.0" height="1" fill="url(#gB)"/>
<rect x="122.80" y="1199" width="1734.2" height="1" fill="url(#gB)"/>
<rect x="122.80" y="1200" width="1754.8" height="1" fill="url(#gB)"/>
<rect x="122.80" y="1201" width="1775.7" height="1" fill="url(#gB)"/>
<rect x="122.80" y="1202" width="1797.0" height="1" fill="url(#gB)"/>
<rect x="122.80" y="1203" width="1818.6" height="1" fill="url(#gB)"/>
<rect x="122.80" y="1204" width="1840.6" height="1" fill="url(#gB)"/>
<rect x="122.80" y="1205" width="1862.9" height="1" fill="url(#gB)"/>
<rect x="122.80" y="1206" width="1885.6" height="1" fill="url(#gB)"/>
<rect x="122.80" y="1207" width="1908.6" height="1" fill="url(#gB)"/>
<rect x="122.80" y="1208" width="1932.1" height="1" fill="url(#gB)"/>
<rect x="122.80" y="1209" width="1955.9" height="1" fill="url(#gB)"/>
<rect x="122.80" y="1210" width="1980.1" height="1" fill="url(#gB)"/>
<rect x="122.80" y="1211" width="2004.7" height="1" fill="url(#gB)"/>
<rect x="122.80" y="1212" width="2029.7" height="1" fill="url(#gB)"/>
<rect x="122.80" y="1213" width="2055.1" height="1" fill="url(#gB)"/>
<rect x="122.80" y="1214" width="2080.9" height="1" fill="url(#gB)"/>
<rect x="122.80" y="1215" width="2107.1" height="1" fill="url(#gB)"/>
<rect x="122.80" y="1216" width="2133.8" height="1" fill="url(#gB)"/>
<rect x="122.80" y="1217" width="2160.9" height="1" fill="url(#gB)"/>
<rect x="122.80" y="1218" width="2188.4" height="1" fill="url(#gB)"/>
<rect x="122.80" y="1219" width="2216.4" height="1" fill="url(#gB)"/>
<rect x="122.80" y="1220" width="2244.8" height="1" fill="url(#gB)"/>
<rect x="122.80" y="1221" width="2273.7" height="1" fill="url(#gB)"/>
<rect x="122.80" y="1222" width="2303.1" height="1" fill="url(#gB)"/>
<rect x="122.80" y="1223" width="2332.9" height="1" fill="url(#gB)"/>
<rect x="122.80" y="1224" width="2363.2" height="1" fill="url(#gB)"/>
<rect x="122.80" y="1225" width="2394.1" height="1" fill="url(#gB)"/>
<rect x="122.80" y="1226" width="2425.4" height="1" fill="url(#gB)"/>
<rect x="122.80" y="1227" width="2457.2" height="1" fill="url(#gB)"/>
<rect x="122.80" y="1228" width="2489.6" height="1" fill="url(#gB)"/>
<rect x="122.80" y="1229" width="2522.5" height="1" fill="url(#gB)"/>
<rect x="122.80" y="1230" width="2555.9" height="1" fill="url(#gB)"/>
<rect x="122.80" y="1231" width="2589.9" height="1" fill="url(#gB)"/>
<rect x="122.80" y="1232" width="2624.4" height="1" fill="url(#gB)"/>
<rect x="122.80" y="1233" width="2659.4" height="1" fill="url(#gB)"/>
<rect x="122.80" y="1234" width="2695.1" height="1" fill="url(#gB)"/>
<rect x="122.80" y="1235" width="2731.3" height="1" fill="url(#gB)"/>
<rect x="122.80" y="1236" width="2768.1" height="1" fill="url(#gB)"/>
<rect x="122.80" y="1237" width="2805.5" height="1" fill="url(#gB)"/>
<rect x="122.80" y="1238" width="2843.6" height="1" fill="url(#gB)"/>
<rect x="122.80" y="1239" width="2882.2" height="1" fill="url(#gB)"/>
<rect x="122.80" y="1240" width="2921.5" height="1" fill="url(#gB)"/>
<rect x="122.80" y="1241" width="2961.4" height="1" fill="url(#gB)"/>
<rect x="122.80" y="1242" width="3001.9" height="1" fill="url(#gB)"/>
<rect x="122.80" y="1243" width="3043.2" height="1" fill="url(#gB)"/>
<rect x="122.80" y="1244" width="3085.1" height="1" fill="url(#gB)"/>
<rect x="122.80" y="1245" width="3127.6" height="1" fill="url(#gB)"/>
<rect x="122.80" y="1246" width="3170.9" height="1" fill="url(#gB)"/>
<rect x="122.80" y="1247" width="3214.9" height="1" fill="url(#gB)"/>
<rect x="122.80" y="1248" width="3259.5" height="1" fill="url(#gB)"/>
<rect x="122.80" y="1249" width="3304.9" height="1" fill="url(#gB)"/>
<rect x="122.80" y="1250" width="3351.1" height="1" fill="url(#gB)"/>
<rect x="122.80" y="1251" width="3398.0" height="1" fill="url(#gB)"/>
<rect x="122.80" y="1252" width="3445.7" height="1" fill="url(#gB)"/>
<rect x="122.80" y="1253" width="3494.1" height="1" fill="url(#gB)"/>
<rect x="122.80" y="1254" width="3543.3" height="1" fill="url(#gB)"/>
<rect x="122.80" y="1255" width="3593.4" height="1" fill="url(#gB)"/>
<rect x="122.80" y="1256" width="3644.2" height="1" fill="url(#gB)"/>
<rect x="122.80" y="1257" width="3695.9" height="1" fill="url(#gB)"/>
<rect x="122.80" y="1258" width="3748.4" height="1" fill="url(#gB)"/>
<rect x="122.80" y="1259" width="3801.7" height="1" fill="url(#gB)"/>
<rect x="122.80" y="1260" width="3856.0" height="1" fill="url(#gB)"/>
<rect x="122.80" y="1261" width="3911.1" height="1" fill="url(#gB)"/>
<rect x="122.80" y="1262" width="3967.1" height="1" fill="url(#gB)"/>
<rect x="122.80" y="1263" width="4024.0" height="1" fill="url(#gB)"/>
<rect x="122.80" y="1264" width="4081.9" height="1" fill="url(#gB)"/>
<rect x="122.80" y="1265" width="4140.7" height="1" fill="url(#gB)"/>
<rect x="122.80" y="1266" width="4200.4" height="1" fill="url(#gB)"/>
<rect x="122.80" y="1267" width="4261.1" height="1" fill="url(#gB)"/>
<rect x="122.80" y="1268" width="4322.9" height="1" fill="url(#gB)"/>
<rect x="122.80" y="1269" width="4385.6" height="1" fill="url(#gB)"/>
<rect x="122.80" y="1270" width="4449.3" height="1" fill="url(#gB)"/>
<rect x="122.80" y="1271" width="4514.1" height="1" fill="url(#gB)"/>
<rect x="122.80" y="1272" width="4579.9" height="1" fill="url(#gB)"/>
<rect x="122.80" y="1273" width="4646.8" height="1" fill="url(#gB)"/>
<rect x="122.80" y="1274" width="4714.8" height="1" fill="url(#gB)"/>
<rect x="122.80" y="1275" width="4783.9" height="1" fill="url(#gB)"/>
<rect x="122.80" y="1276" width="4854.1" height="1" fill="url(#gB)"/>
<rect x="122.80" y="1277" width="4925.4" height="1" fill="url(#gB)"/>
<rect x="122.80" y="1278" width="4998.0" height="1" fill="url(#gB)"/>
<rect x="122.80" y="1279" width="5071.7" height="1" fill="url(#gB)"/>
<rect x="122.80" y="1280" width="5146.6" height="1" fill="url(#gB)"/>
<rect x="122.80" y="1281" width="5222.7" height="1" fill="url(#gB)"/>
<rect x="122.80" y="1282" width="5300.0" height="1" fill="url(#gB)"/>
<rect x="122.80" y="1283" width="5378.6" height="1" fill="url(#gB)"/>
<rect x="122.80" y="1284" width="5458.5" height="1" fill="url(#gB)"/>
<rect x="122.80" y="1285" width="5539.7" height="1" fill="url(#gB)"/>
<rect x="122.80" y="1286" width="5622.3" height="1" fill="url(#gB)"/>
<rect x="122.80" y="1287" width="5706.1" height="1" fill="url(#gB)"/>
<rect x="122.80" y="1288" width="5791.3" height="1" fill="url(#gB)"/>
<rect x="122.80" y="1289" width="5877.9" height="1" fill="url(#gB)"/>
<rect x="122.80" y="1290" width="5966.0" height="1" fill="url(#gB)"/>
<rect x="122.80" y="1291" width="6055.4" height="1" fill="url(#gB)"/>
<rect x="122.80" y="1292" width="6146.3" height="1" fill="url(#gB)"/>
<rect x="122.80" y="1293" width="6238.7" height="1" fill="url(#gB)"/>
<rect x="122.80" y="1294" width="6332.6" height="1" fill="url(#gB)"/>
<rect x="122.80" y="1295" width="6428.0" height="1" fill="url(#gB)"/>
<rect x="122.80" y="1296" width="6525.0" height="1" fill="url(#gB)"/>
<rect x="122.80" y="1297" width="6623.5" height="1" fill="url(#gB)"/>
<rect x="122.80" y="1298" width="6723.7" height="1" fill="url(#gB)"/>
<rect x="122.80" y="1299" width="6825.5" height="1" fill="url(#gB)"/>
<rect x="122.80" y="1300" width="6928.9" height="1" fill="url(#gB)"/>
<rect x="122.80" y="1301" width="7034.0" height="1" fill="url(#gB)"/>
<rect x="122.80" y="1302" width="7140.8" height="1" fill="url(#gB)"/>
<rect x="122.80" y="1303" width="7249.4" height="1" fill="url(#gB)"/>
<rect x="122.80" y="1304" width="7359.7" height="1" fill="url(#gB)"/>
<rect x="122.80" y="1305" width="7471.9" height="1" fill="url(#gB)"/>
<rect x="122.80" y="1306" width="7585.8" height="1" fill="url(#gB)"/>
<rect x="122.80" y="1307" width="7701.6" height="1" fill="url(#gB)"/>
<rect x="122.80" y="1308" width="7819.3" height="1" fill="url(#gB)"/>
<rect x="122.80" y="1309" width="7938.9" height="1" fill="url(#gB)"/>
<rect x="122.80" y="1310" width="8060.5" height="1" fill="url(#gB)"/>
<rect x="122.80" y="1311" width="8184.0" height="1" fill="url(#gB)"/>
<rect x="122.80" y="1312" width="8309.6" height="1" fill="url(#gB)"/>
<rect x="122.80" y="1313" width="8437.2" height="1" fill="url(#gB)"/>
<rect x="122.80" y="1314" width="8566.8" height="1" fill="url(#gB)"/>
<rect x="122.80" y="1315" width="8698.6" height="1" fill="url(#gB)"/>
<rect x="122.80" y="1316" width="8832.5" height="1" fill="url(#gB)"/>
<rect x="122.80" y="1317" width="8968.6" height="1" fill="url(#gB)"/>
<rect x="122.80" y="1318" width="9106.9" height="1" fill="url(#gB)"/>
<rect x="122.80" y="1319" width="9247.5" height="1" fill="url(#gB)"/>
<rect x="122.80" y="1320" width="9390.3" height="1" fill="url(#gB)"/>
<rect x="122.80" y="1321" width="9535.5" height="1" fill="url(#gB)"/>
<rect x="122.80" y="1322" width="9683.1" height="1" fill="url(#gB)"/>
<rect x="122.80" y="1323" width="9833.0" height="1" fill="url(#gB)"/>
<rect x="122.80" y="1324" width="9985.4" height="1" fill="url(#gB)"/>
<rect x="122.80" y="1325" width="10140.2" height="1" fill="url(#gB)"/>
<rect x="122.80" y="1326" width="10297.6" height="1" fill="url(#gB)"/>
<rect x="122.80" y="1327" width="10457.5" height="1" fill="url(#gB)"/>
<rect x="122.80" y="1328" width="10620.1" height="1" fill="url(#gB)"/>
<rect x="122.80" y="1329" width="10785.3" height="1" fill="url(#gB)"/>
<rect x="122.80" y="1330" width="10953.1" height="1" fill="url(#gB)"/>
<rect x="122.80" y="1331" width="11123.7" height="1" fill="url(#gB)"/>
<rect x="122.80" y="1332" width="11297.1" height="1" fill="url(#gB)"/>
<rect x="122.80" y="1333" width="11473.3" height="1" fill="url(#gB)"/>
<rect x="122.80" y="1334" width="11652.4" height="1" fill="url(#gB)"/>
<rect x="122.80" y="1335" width="11834.4" height="1" fill="url(#gB)"/>
<rect x="122.80" y="1336" width="12019.3" height="1" fill="url(#gB)"/>
<rect x="122.80" y="1337" width="12207.3" height="1" fill="url(#gB)"/>
<rect x="122.80" y="1338" width="12398.3" height="1" fill="url(#gB)"/>
<rect x="122.80" y="1339" width="12592.4" height="1" fill="url(#gB)"/>
<rect x="122.80" y="1340" width="12789.7" height="1" fill="url(#gB)"/>
<rect x="122.80" y="1341" width="12990.2" height="1" fill="url(#gB)"/>
<rect x="122.80" y="1342" width="13193.9" height="1" fill="url(#gB)"/>
<rect x="122.80" y="1343" width="13401.0" height="1" fill="url(#gB)"/>
<rect x="122.80" y="1344" width="13611.4" height="1" fill="url(#gB)"/>
<rect x="122.80" y="1345" width="13825.3" height="1" fill="url(#gB)"/>
<rect x="122.80" y="1346" width="14042.6" height="1" fill="url(#gB)"/>
<rect x="122.80" y="1347" width="14263.5" height="1" fill="url(#gB)"/>
<rect x="122.80" y="1348" width="14488.0" height="1" fill="url(#gB)"/>
<rect x="122.80" y="1349" width="14716.1" height="1" fill="url(#gB)"/>
<rect x="122.80" y="1350" width="14948.0" height="1" fill="url(#gB)"/>
<rect x="122.80" y="1351" width="15183.6" height="1" fill="url(#gB)"/>
<rect x="122.80" y="1352" width="15423.0" height="1" fill="url(#gB)"/>
<rect x="122.80" y="1353" width="15666.4" height="1" fill="url(#gB)"/>
<rect x="122.80" y="1354" width="15913.7" height="1" fill="url(#gB)"/>
<rect x="122.80" y="1355" width="16165.0" height="1" fill="url(#gB)"/>
<rect x="122.80" y="1356" width="16420.4" height="1" fill="url(#gB)"/>
<rect x="122.80" y="1357" width="16680.0" height="1" fill="url(#gB)"/>
<rect x="122.80" y="1358" width="16943.8" height="1" fill="url(#gB)"/>
<rect x="122.80" y="1359" width="17211.8" height="1" fill="url(#gB)"/>
<rect x="122.80" y="1360" width="17484.3" height="1" fill="url(#gB)"/>
<rect x="122.80" y="1361" width="17761.2" height="1" fill="url(#gB)"/>
<rect x="122.80" y="1362" width="18042.6" height="1" fill="url(#gB)"/>
<rect x="122.80" y="1363" width="18328.5" height="1" fill="url(#gB)"/>
<rect x="122.80" y="1364" width="18619.1" height="1" fill="url(#gB)"/>
<rect x="122.80" y="1365" width="18914.5" height="1" fill="url(#gB)"/>
<rect x="122.80" y="1366" width="19214.7" height="1" fill="url(#gB)"/>
<rect x="122.80" y="1367" width="19519.7" height="1" fill="url(#gB)"/>
<rect x="122.80" y="1368" width="19829.7" height="1" fill="url(#gB)"/>
<rect x="122.80" y="1369" width="20144.7" height="1" fill="url(#gB)"/>
<rect x="122.80" y="1370" width="20464.9" height="1" fill="url(#gB)"/>
<rect x="122.80" y="1371" width="20790.3" height="1" fill="url(#gB)"/>
<rect x="122.80" y="1372" width="21121.0" height="1" fill="url(#gB)"/>
<rect x="122.80" y="1373" width="21457.0" height="1" fill="url(#gB)"/>
<rect x="122.80" y="1374" width="21798.6" height="1" fill="url(#gB)"/>
<rect x="122.80" y="1375" width="22145.7" height="1" fill="url(#gB)"/>
<rect x="122.80" y="1376" width="22498.4" height="1" fill="url(#gB)"/>
<rect x="122.80" y="1377" width="22856.9" height="1" fill="url(#gB)"/>
<rect x="122.80" y="1378" width="23221.2" height="1" fill="url(#gB)"/>
<rect x="122.80" y="1379" width="23591.4" height="1" fill="url(#gB)"/>
<rect x="122.80" y="1380" width="23967.7" height="1" fill="url(#gB)"/>
<rect x="122.80" y="1381" width="24350.1" height="1" fill="url(#gB)"/>
<rect x="122.80" y="1382" width="24738.7" height="1" fill="url(#gB)"/>
<rect x="122.80" y="1383" width="25133.6" height="1" fill="url(#gB)"/>
<rect x="122.80" y="1384" width="25534.9" height="1" fill="url(#gB)"/>
<rect x="122.80" y="1385" width="25942.8" height="1" fill="url(#gB)"/>
<rect x="122.80" y="1386" width="26357.4" height="1" fill="url(#gB)"/>
<rect x="122.80" y="1387" width="26778.6" height="1" fill="url(#gB)"/>
<rect x="122.80" y="1388" width="27206.8" height="1" fill="url(#gB)"/>
<rect x="122.80" y="1389" width="27641.8" height="1" fill="url(#gB)"/>
<rect x="122.80" y="1390" width="28084.0" height="1" fill="url(#gB)"/>
<rect x="122.80" y="1391" width="28533.4" height="1" fill="url(#gB)"/>
<rect x="122.80" y="1392" width="28990.1" height="1" fill="url(#gB)"/>
<rect x="122.80" y="1393" width="29454.2" height="1" fill="url(#gB)"/>
<rect x="122.80" y="1394" width="29925.8" height="1" fill="url(#gB)"/>
<rect x="122.80" y="1395" width="30405.2" height="1" fill="url(#gB)"/>
<rect x="122.80" y="1396" width="30892.3" height="1" fill="url(#gB)"/>
<rect x="122.80" y="1397" width="31387.4" height="1" fill="url(#gB)"/>
<rect x="122.80" y="1398" width="31890.5" height="1" fill="url(#gB)"/>
<rect x="122.80" y="1399" width="32401.8" height="1" fill="url(#gB)"/>
<rect x="122.80" y="1400" width="32921.4" height="1" fill="url(#gB)"/>
<rect x="122.80" y="1401" width="33449.5" height="1" fill="url(#gB)"/>
<rect x="122.80" y="1402" width="33986.2" height="1" fill="url(#gB)"/>
<rect x="122.80" y="1403" width="34531.6" height="1" fill="url(#gB)"/>
<rect x="122.80" y="1404" width="35085.9" height="1" fill="url(#gB)"/>
<rect x="122.80" y="1405" width="35649.2" height="1" fill="url(#gB)"/>
<rect x="122.80" y="1406" width="36221.7" height="1" fill="url(#gB)"/>
<rect x="122.80" y="1407" width="36803.4" height="1" fill="url(#gB)"/>
<rect x="122.80" y="1408" width="37394.7" height="1" fill="url(#gB)"/>
<rect x="122.80" y="1409" width="37995.6" height="1" fill="url(#gB)"/>
<rect x="122.80" y="1410" width="38606.2" height="1" fill="url(#gB)"/>
<rect x="122.80" y="1411" width="39226.8" height="1" fill="url(#gB)"/>
<rect x="122.80" y="1412" width="39857.5" height="1" fill="url(#gB)"/>
<rect x="122.80" y="1413" width="40498.4" height="1" fill="url(#gB)"/>
<rect x="122.80" y="1414" width="41149.8" height="1" fill="url(#gB)"/>
<rect x="122.80" y="1415" width="41811.8" height="1" fill="url(#gB)"/>
<rect x="122.80" y="1416" width="42484.6" height="1" fill="url(#gB)"/>
<rect x="122.80" y="1417" width="43168.3" height="1" fill="url(#gB)"/>
<rect x="122.80" y="1418" width="43863.1" height="1" fill="url(#gB)"/>
<rect x="122.80" y="1419" width="44569.2" height="1" fill="url(#gB)"/>
<rect x="122.80" y="1420" width="45286.8" height="1" fill="url(#gB)"/>
<rect x="122.80" y="1421" width="46016.1" height="1" fill="url(#gB)"/>
<rect x="122.80" y="1422" width="46757.3" height="1" fill="url(#gB)"/>
<rect x="122.80" y="1423" width="47358.9" height="1" fill="url(#gB)"/>
</g>
<g stroke="#b0b0b0" stroke-width="1.8" fill="none"><path d="M216.20 852.70V1423.30"/><path d="M310.10 852.70V1423.30"/><path d="M404.00 852.70V1423.30"/><path d="M498.00 852.70V1423.30"/><path d="M122.80 1280.65H591.70"/><path d="M122.80 1138.00H591.70"/><path d="M122.80 995.35H591.70"/></g>
<path d="M133.6 852.7L133.6 855.1L133.6 857.4L133.6 859.8L133.6 862.1L133.6 864.5L133.6 866.9L133.6 869.2L133.6 871.6L133.7 873.9L133.7 876.3L133.7 878.7L133.7 881.0L133.7 883.4L133.7 885.7L133.7 888.1L133.7 890.5L133.7 892.8L133.7 895.2L133.7 897.5L133.7 899.9L133.8 902.3L133.8 904.6L133.8 907.0L133.8 909.3L133.8 911.7L133.8 914.0L133.8 916.4L133.8 918.8L133.8 921.1L133.9 923.5L133.9 925.8L133.9 928.2L133.9 930.6L133.9 932.9L133.9 935.3L134.0 937.6L134.0 940.0L134.0 942.4L134.0 944.7L134.0 947.1L134.0 949.4L134.1 951.8L134.1 954.2L134.1 956.5L134.1 958.9L134.2 961.2L134.2 963.6L134.2 966.0L134.2 968.3L134.3 970.7L134.3 973.0L134.3 975.4L134.4 977.8L134.4 980.1L134.4 982.5L134.5 984.8L134.5 987.2L134.5 989.6L134.6 991.9L134.6 994.3L134.7 996.6L134.7 999.0L134.7 1001.4L134.8 1003.7L134.8 1006.1L134.9 1008.4L134.9 1010.8L135.0 1013.1L135.1 1015.5L135.1 1017.9L135.2 1020.2L135.2 1022.6L135.3 1024.9L135.4 1027.3L135.4 1029.7L135.5 1032.0L135.6 1034.4L135.7 1036.7L135.8 1039.1L135.8 1041.5L135.9 1043.8L136.0 1046.2L136.1 1048.5L136.2 1050.9L136.3 1053.3L136.4 1055.6L136.5 1058.0L136.7 1060.3L136.8 1062.7L136.9 1065.1L137.0 1067.4L137.2 1069.8L137.3 1072.1L137.5 1074.5L137.6 1076.9L137.8 1079.2L137.9 1081.6L138.1 1083.9L138.3 1086.3L138.5 1088.7L138.7 1091.0L138.9 1093.4L139.1 1095.7L139.3 1098.1L139.5 1100.5L139.7 1102.8L140.0 1105.2L140.2 1107.5L140.5 1109.9L140.7 1112.2L141.0 1114.6L141.3 1117.0L141.6 1119.3L141.9 1121.7L142.2 1124.0L142.6 1126.4L142.9 1128.8L143.3 1131.1L143.7 1133.5L144.1 1135.8L144.5 1138.2L144.9 1140.6L145.3 1142.9L145.8 1145.3L146.3 1147.6L146.8 1150.0L147.3 1152.4L147.8 1154.7L148.4 1157.1L148.9 1159.4L149.5 1161.8L150.2 1164.2L150.8 1166.5L151.5 1168.9L152.2 1171.2L152.9 1173.6L153.6 1176.0L154.4 1178.3L155.2 1180.7L156.1 1183.0L156.9 1185.4L157.8 1187.8L158.8 1190.1L159.8 1192.5L160.8 1194.8L161.8 1197.2L162.9 1199.6L164.1 1201.9L165.3 1204.3L166.5 1206.6L167.8 1209.0L169.1 1211.3L170.5 1213.7L171.9 1216.1L173.4 1218.4L175.0 1220.8L176.6 1223.1L178.3 1225.5L180.0 1227.9L181.8 1230.2L183.7 1232.6L185.6 1234.9L187.6 1237.3L189.7 1239.7L191.9 1242.0L194.2 1244.4L196.5 1246.7L199.0 1249.1L201.5 1251.5L203.5 1253.2M258.9 1289.3L263.6 1291.6L268.6 1293.9L273.9 1296.3L279.4 1298.7L285.0 1301.0L290.9 1303.4L297.0 1305.7L303.4 1308.1L310.0 1310.4L316.9 1312.8L324.0 1315.2L331.4 1317.5L339.1 1319.9L347.1 1322.2L355.4 1324.6L364.0 1327.0L373.0 1329.3L382.3 1331.7L392.0 1334.0L402.0 1336.4L412.5 1338.8L423.3 1341.1L434.6 1343.5L446.3 1345.8L458.5 1348.2L471.1 1350.6L484.3 1352.9L497.9 1355.3L512.1 1357.6L526.8 1360.0L542.1 1362.4L558.0 1364.7L574.5 1367.1L591.7 1369.4" fill="none" stroke="#000" stroke-width="3.20" clip-path="url(#clB)"/>
<text transform="translate(230.0 1273.1) rotate(33.1)" text-anchor="middle" font-size="28.0" fill="#000" y="7.4" textLength="36.3" lengthAdjust="spacingAndGlyphs">0.1</text>
<path d="M167.0 852.7L167.0 854.6L167.0 856.6L167.0 858.5L167.1 860.5L167.1 862.4L167.1 864.4L167.1 866.3L167.1 868.3L167.1 870.2L167.2 872.2L167.2 874.1L167.2 876.1L167.2 878.0L167.2 880.0L167.3 881.9L167.3 883.9L167.3 885.8L167.3 887.7L167.3 889.7L167.4 891.6L167.4 893.6L167.4 895.5L167.4 897.5L167.5 899.4L167.5 901.4L167.5 903.3L167.6 905.3L167.6 907.2L167.6 909.2L167.7 911.1L167.7 913.1L167.7 915.0L167.8 917.0L167.8 918.9L167.9 920.8L167.9 922.8L167.9 924.7L168.0 926.7L168.0 928.6L168.1 930.6L168.1 932.5L168.2 934.5L168.2 936.4L168.3 938.4L168.3 940.3L168.4 942.3L168.4 944.2L168.5 946.2L168.6 948.1L168.6 950.1L168.7 952.0L168.8 953.9L168.8 955.9L168.9 957.8L169.0 959.8L169.1 961.7L169.1 963.7L169.2 965.6L169.3 967.6L169.4 969.5L169.5 971.5L169.6 973.4L169.7 975.4L169.8 977.3L169.9 979.3L170.0 981.2L170.1 983.2L170.2 985.1L170.3 987.0L170.5 989.0L170.6 990.9L170.7 992.9L170.8 994.8L171.0 996.8L171.1 998.7L171.3 1000.7L171.4 1002.6L171.6 1004.6L171.7 1006.5L171.9 1008.5L172.1 1010.4L172.3 1012.4L172.4 1014.3L172.6 1016.3L172.8 1018.2L173.0 1020.1L173.2 1022.1L173.4 1024.0L173.7 1026.0L173.9 1027.9L174.1 1029.9L174.4 1031.8L174.6 1033.8L174.9 1035.7L175.1 1037.7L175.4 1039.6L175.7 1041.6L176.0 1043.5L176.3 1045.5L176.6 1047.4L176.9 1049.3L177.3 1051.3L177.6 1053.2L178.0 1055.2L178.3 1057.1L178.7 1059.1L179.1 1061.0L179.5 1063.0L179.9 1064.9L180.3 1066.9L180.8 1068.8L181.2 1070.8L181.7 1072.7L182.2 1074.7L182.7 1076.6L183.2 1078.6L183.7 1080.5L184.3 1082.4L184.9 1084.4L185.5 1086.3L186.1 1088.3L186.7 1090.2L187.3 1092.2L188.0 1094.1L188.7 1096.1L189.4 1098.0L190.1 1100.0L190.9 1101.9L191.6 1103.9L192.4 1105.8L193.3 1107.8L194.1 1109.7L195.0 1111.7L195.9 1113.6L196.9 1115.5L197.8 1117.5L198.8 1119.4L199.9 1121.4L200.9 1123.3L202.0 1125.3L203.2 1127.2L204.3 1129.2L205.5 1131.1L206.8 1133.1L208.1 1135.0L209.4 1137.0L210.8 1138.9L212.2 1140.9L213.6 1142.8L215.1 1144.8L216.7 1146.7L218.3 1148.6L220.0 1150.6L221.7 1152.5L223.4 1154.5L225.2 1156.4L227.1 1158.4L229.0 1160.3L231.0 1162.3L233.1 1164.2L235.2 1166.2L237.4 1168.1L239.7 1170.1L242.0 1172.0L244.4 1174.0L246.9 1175.9L248.3 1176.9M305.6 1209.8L308.1 1211.0L312.6 1212.9L317.3 1214.8L322.1 1216.8L327.0 1218.7L332.2 1220.7L337.5 1222.6L342.9 1224.6L348.5 1226.5L354.4 1228.5L360.4 1230.4L366.5 1232.4L372.9 1234.3L379.5 1236.3L386.3 1238.2L393.3 1240.2L400.6 1242.1L408.0 1244.1L415.7 1246.0L423.7 1247.9L431.9 1249.9L440.4 1251.8L449.1 1253.8L458.1 1255.7L467.5 1257.7L477.1 1259.6L487.0 1261.6L497.2 1263.5L507.8 1265.5L518.6 1267.4L529.9 1269.4L541.5 1271.3L553.5 1273.3L565.8 1275.2L578.5 1277.2L591.7 1279.1" fill="none" stroke="#000" stroke-width="3.20" clip-path="url(#clB)"/>
<text transform="translate(276.0 1195.0) rotate(29.9)" text-anchor="middle" font-size="28.0" fill="#000" y="7.4" textLength="36.3" lengthAdjust="spacingAndGlyphs">0.2</text>
<path d="M219.0 852.7L219.0 854.4L219.1 856.1L219.1 857.8L219.1 859.5L219.2 861.2L219.2 862.8L219.2 864.5L219.2 866.2L219.3 867.9L219.3 869.6L219.3 871.3L219.4 873.0L219.4 874.7L219.4 876.4L219.5 878.1L219.5 879.7L219.6 881.4L219.6 883.1L219.6 884.8L219.7 886.5L219.7 888.2L219.8 889.9L219.8 891.6L219.9 893.3L219.9 895.0L220.0 896.6L220.0 898.3L220.1 900.0L220.1 901.7L220.2 903.4L220.2 905.1L220.3 906.8L220.4 908.5L220.4 910.2L220.5 911.9L220.6 913.6L220.6 915.2L220.7 916.9L220.8 918.6L220.9 920.3L220.9 922.0L221.0 923.7L221.1 925.4L221.2 927.1L221.3 928.8L221.3 930.5L221.4 932.1L221.5 933.8L221.6 935.5L221.7 937.2L221.8 938.9L221.9 940.6L222.0 942.3L222.2 944.0L222.3 945.7L222.4 947.4L222.5 949.1L222.6 950.7L222.8 952.4L222.9 954.1L223.0 955.8L223.2 957.5L223.3 959.2L223.4 960.9L223.6 962.6L223.7 964.3L223.9 966.0L224.1 967.6L224.2 969.3L224.4 971.0L224.6 972.7L224.8 974.4L224.9 976.1L225.1 977.8L225.3 979.5L225.5 981.2L225.7 982.9L226.0 984.5L226.2 986.2L226.4 987.9L226.6 989.6L226.9 991.3L227.1 993.0L227.4 994.7L227.6 996.4L227.9 998.1L228.2 999.8L228.5 1001.5L228.7 1003.1L229.0 1004.8L229.3 1006.5L229.7 1008.2L230.0 1009.9L230.3 1011.6L230.7 1013.3L231.0 1015.0L231.4 1016.7L231.7 1018.4L232.1 1020.0L232.5 1021.7L232.9 1023.4L233.3 1025.1L233.7 1026.8L234.2 1028.5L234.6 1030.2L235.1 1031.9L235.6 1033.6L236.0 1035.3L236.5 1036.9L237.1 1038.6L237.6 1040.3L238.1 1042.0L238.7 1043.7L239.3 1045.4L239.8 1047.1L240.5 1048.8L241.1 1050.5L241.7 1052.2L242.4 1053.9L243.0 1055.5L243.7 1057.2L244.5 1058.9L245.2 1060.6L245.9 1062.3L246.7 1064.0L247.5 1065.7L248.3 1067.4L249.2 1069.1L250.0 1070.8L250.9 1072.4L251.8 1074.1L252.8 1075.8L253.7 1077.5L254.7 1079.2L255.7 1080.9L256.8 1082.6L257.8 1084.3L259.0 1086.0L260.1 1087.7L261.3 1089.4L262.4 1091.0L263.7 1092.7L264.9 1094.4L266.2 1096.1L267.6 1097.8L269.0 1099.5L270.4 1101.2L271.8 1102.9L273.3 1104.6L274.8 1106.3L276.4 1107.9L278.0 1109.6L279.7 1111.3L281.4 1113.0L283.1 1114.7L285.0 1116.4L286.8 1118.1L288.7 1119.8L290.7 1121.5L292.7 1123.2L294.7 1124.8L295.7 1125.6M352.4 1159.5L354.2 1160.3L357.9 1162.0L361.8 1163.7L365.8 1165.4L369.9 1167.1L374.1 1168.8L378.4 1170.5L382.8 1172.2L387.4 1173.9L392.1 1175.6L396.9 1177.2L401.8 1178.9L406.9 1180.6L412.1 1182.3L417.5 1184.0L423.0 1185.7L428.7 1187.4L434.5 1189.1L440.5 1190.8L446.7 1192.5L453.0 1194.2L459.5 1195.8L466.2 1197.5L473.0 1199.2L480.1 1200.9L487.4 1202.6L494.8 1204.3L502.5 1206.0L510.3 1207.7L518.4 1209.4L526.7 1211.1L535.3 1212.7L544.0 1214.4L553.1 1216.1L562.3 1217.8L571.9 1219.5L581.6 1221.2L591.7 1222.9" fill="none" stroke="#000" stroke-width="3.20" clip-path="url(#clB)"/>
<text transform="translate(323.0 1144.3) rotate(30.9)" text-anchor="middle" font-size="28.0" fill="#000" y="7.4" textLength="36.3" lengthAdjust="spacingAndGlyphs">0.3</text>
<path d="M283.5 852.7L283.5 854.2L283.6 855.7L283.6 857.2L283.6 858.7L283.7 860.2L283.7 861.7L283.8 863.1L283.8 864.6L283.9 866.1L283.9 867.6L283.9 869.1L284.0 870.6L284.0 872.1L284.1 873.6L284.1 875.1L284.2 876.6L284.3 878.1L284.3 879.6L284.4 881.1L284.4 882.6L284.5 884.0L284.6 885.5L284.6 887.0L284.7 888.5L284.7 890.0L284.8 891.5L284.9 893.0L285.0 894.5L285.0 896.0L285.1 897.5L285.2 899.0L285.3 900.5L285.3 902.0L285.4 903.5L285.5 904.9L285.6 906.4L285.7 907.9L285.8 909.4L285.9 910.9L286.0 912.4L286.1 913.9L286.2 915.4L286.3 916.9L286.4 918.4L286.5 919.9L286.6 921.4L286.7 922.9L286.8 924.3L287.0 925.8L287.1 927.3L287.2 928.8L287.3 930.3L287.5 931.8L287.6 933.3L287.8 934.8L287.9 936.3L288.0 937.8L288.2 939.3L288.3 940.8L288.5 942.3L288.7 943.8L288.8 945.2L289.0 946.7L289.2 948.2L289.4 949.7L289.5 951.2L289.7 952.7L289.9 954.2L290.1 955.7L290.3 957.2L290.5 958.7L290.7 960.2L291.0 961.7L291.2 963.2L291.4 964.7L291.6 966.1L291.9 967.6L292.1 969.1L292.4 970.6L292.6 972.1L292.9 973.6L293.2 975.1L293.4 976.6L293.7 978.1L294.0 979.6L294.3 981.1L294.6 982.6L294.9 984.1L295.3 985.5L295.6 987.0L295.9 988.5L296.3 990.0L296.6 991.5L297.0 993.0L297.3 994.5L297.7 996.0L298.1 997.5L298.5 999.0L298.9 1000.5L299.3 1002.0L299.8 1003.5L300.2 1005.0L300.7 1006.4L301.1 1007.9L301.6 1009.4L302.1 1010.9L302.6 1012.4L303.1 1013.9L303.6 1015.4L304.1 1016.9L304.7 1018.4L305.2 1019.9L305.8 1021.4L306.4 1022.9L307.0 1024.4L307.6 1025.9L308.2 1027.3L308.9 1028.8L309.5 1030.3L310.2 1031.8L310.9 1033.3L311.6 1034.8L312.4 1036.3L313.1 1037.8L313.9 1039.3L314.7 1040.8L315.5 1042.3L316.3 1043.8L317.1 1045.3L318.0 1046.7L318.9 1048.2L319.8 1049.7L320.7 1051.2L321.7 1052.7L322.6 1054.2L323.6 1055.7L324.7 1057.2L325.7 1058.7L326.8 1060.2L327.9 1061.7L329.0 1063.2L330.2 1064.7L331.3 1066.2L332.5 1067.6L333.8 1069.1L335.1 1070.6L336.4 1072.1L337.7 1073.6L339.1 1075.1L340.5 1076.6L341.9 1078.1L343.4 1079.6L344.9 1081.1L345.4 1081.6M399.4 1119.6L399.9 1119.9L402.8 1121.4L405.8 1122.9L408.8 1124.4L411.9 1125.9L415.1 1127.4L418.3 1128.8L421.6 1130.3L425.1 1131.8L428.6 1133.3L432.1 1134.8L435.8 1136.3L439.6 1137.8L443.4 1139.3L447.4 1140.8L451.4 1142.3L455.5 1143.8L459.8 1145.3L464.1 1146.8L468.6 1148.2L473.1 1149.7L477.8 1151.2L482.6 1152.7L487.5 1154.2L492.5 1155.7L497.7 1157.2L502.9 1158.7L508.3 1160.2L513.9 1161.7L519.5 1163.2L525.3 1164.7L531.3 1166.2L537.3 1167.7L543.6 1169.1L550.0 1170.6L556.5 1172.1L563.2 1173.6L570.1 1175.1L577.1 1176.6L584.3 1178.1L591.7 1179.6" fill="none" stroke="#000" stroke-width="3.20" clip-path="url(#clB)"/>
<text transform="translate(371.0 1102.5) rotate(35.2)" text-anchor="middle" font-size="28.0" fill="#000" y="7.4" textLength="36.3" lengthAdjust="spacingAndGlyphs">0.4</text>
<path d="M352.0 852.7L352.1 854.0L352.1 855.3L352.2 856.6L352.3 858.0L352.3 859.3L352.4 860.6L352.5 861.9L352.5 863.2L352.6 864.5L352.7 865.8L352.8 867.2L352.8 868.5L352.9 869.8L353.0 871.1L353.1 872.4L353.1 873.7L353.2 875.0L353.3 876.4L353.4 877.7L353.5 879.0L353.6 880.3L353.7 881.6L353.7 882.9L353.8 884.2L353.9 885.6L354.0 886.9L354.1 888.2L354.2 889.5L354.3 890.8L354.4 892.1L354.5 893.4L354.6 894.8L354.7 896.1L354.9 897.4L355.0 898.7L355.1 900.0L355.2 901.3L355.3 902.6L355.4 904.0L355.6 905.3L355.7 906.6L355.8 907.9L356.0 909.2L356.1 910.5L356.2 911.8L356.4 913.2L356.5 914.5L356.7 915.8L356.8 917.1L357.0 918.4L357.1 919.7L357.3 921.0L357.4 922.3L357.6 923.7L357.8 925.0L357.9 926.3L358.1 927.6L358.3 928.9L358.5 930.2L358.6 931.5L358.8 932.9L359.0 934.2L359.2 935.5L359.4 936.8L359.6 938.1L359.8 939.4L360.0 940.7L360.2 942.1L360.5 943.4L360.7 944.7L360.9 946.0L361.2 947.3L361.4 948.6L361.6 949.9L361.9 951.3L362.1 952.6L362.4 953.9L362.7 955.2L362.9 956.5L363.2 957.8L363.5 959.1L363.8 960.5L364.1 961.8L364.4 963.1L364.7 964.4L365.0 965.7L365.3 967.0L365.6 968.3L365.9 969.7L366.3 971.0L366.6 972.3L367.0 973.6L367.3 974.9L367.7 976.2L368.1 977.5L368.5 978.9L368.8 980.2L369.2 981.5L369.6 982.8L370.1 984.1L370.5 985.4L370.9 986.7L371.3 988.1L371.8 989.4L372.3 990.7L372.7 992.0L373.2 993.3L373.7 994.6L374.2 995.9L374.7 997.3L375.2 998.6L375.7 999.9L376.3 1001.2L376.8 1002.5L377.4 1003.8L378.0 1005.1L378.6 1006.5L379.2 1007.8L379.8 1009.1L380.4 1010.4L381.0 1011.7L381.7 1013.0L382.4 1014.3L383.0 1015.7L383.7 1017.0L384.4 1018.3L385.2 1019.6L385.9 1020.9L386.7 1022.2L387.4 1023.5L388.2 1024.9L389.0 1026.2L389.8 1027.5L390.7 1028.8L391.5 1030.1L392.4 1031.4L393.3 1032.7L394.2 1034.1L395.1 1035.4L396.1 1036.7L396.8 1037.6M445.2 1082.3L445.8 1082.7L447.8 1084.0L449.9 1085.3L452.0 1086.6L454.2 1087.9L456.4 1089.2L458.6 1090.6L460.9 1091.9L463.3 1093.2L465.7 1094.5L468.2 1095.8L470.7 1097.1L473.2 1098.4L475.8 1099.8L478.5 1101.1L481.2 1102.4L484.0 1103.7L486.9 1105.0L489.8 1106.3L492.8 1107.6L495.8 1109.0L498.9 1110.3L502.0 1111.6L505.3 1112.9L508.6 1114.2L512.0 1115.5L515.4 1116.8L518.9 1118.2L522.5 1119.5L526.2 1120.8L529.9 1122.1L533.8 1123.4L537.7 1124.7L541.7 1126.0L545.8 1127.4L549.9 1128.7L554.2 1130.0L558.5 1131.3L563.0 1132.6L567.5 1133.9L572.1 1135.2L576.9 1136.6L581.7 1137.9L586.7 1139.2L591.7 1140.5" fill="none" stroke="#000" stroke-width="3.20" clip-path="url(#clB)"/>
<text transform="translate(419.0 1062.1) rotate(42.7)" text-anchor="middle" font-size="28.0" fill="#000" y="7.4" textLength="36.3" lengthAdjust="spacingAndGlyphs">0.5</text>
<path d="M417.3 852.7L417.4 853.9L417.4 855.0L417.5 856.2L417.6 857.3L417.6 858.5L417.7 859.7L417.8 860.8L417.8 862.0L417.9 863.1L418.0 864.3L418.0 865.5L418.1 866.6L418.2 867.8L418.2 868.9L418.3 870.1L418.4 871.3L418.5 872.4L418.5 873.6L418.6 874.7L418.7 875.9L418.8 877.1L418.9 878.2L419.0 879.4L419.1 880.5L419.1 881.7L419.2 882.9L419.3 884.0L419.4 885.2L419.5 886.3L419.6 887.5L419.7 888.7L419.8 889.8L419.9 891.0L420.0 892.1L420.1 893.3L420.2 894.5L420.4 895.6L420.5 896.8L420.6 898.0L420.7 899.1L420.8 900.3L420.9 901.4L421.1 902.6L421.2 903.8L421.3 904.9L421.5 906.1L421.6 907.2L421.7 908.4L421.9 909.6L422.0 910.7L422.1 911.9L422.3 913.0L422.4 914.2L422.6 915.4L422.7 916.5L422.9 917.7L423.1 918.8L423.2 920.0L423.4 921.2L423.6 922.3L423.7 923.5L423.9 924.6L424.1 925.8L424.3 927.0L424.5 928.1L424.7 929.3L424.8 930.4L425.0 931.6L425.2 932.8L425.4 933.9L425.7 935.1L425.9 936.2L426.1 937.4L426.3 938.6L426.5 939.7L426.8 940.9L427.0 942.0L427.2 943.2L427.5 944.4L427.7 945.5L428.0 946.7L428.2 947.8L428.5 949.0L428.7 950.2L429.0 951.3L429.3 952.5L429.6 953.6L429.8 954.8L430.1 956.0L430.4 957.1L430.7 958.3L431.0 959.4L431.3 960.6L431.7 961.8L432.0 962.9L432.3 964.1L432.7 965.2L433.0 966.4L433.3 967.6L433.7 968.7L434.1 969.9L434.4 971.0L434.8 972.2L435.2 973.4L435.6 974.5L436.0 975.7L436.4 976.8L436.8 978.0L437.2 979.2L437.6 980.3L438.1 981.5L438.5 982.7L439.0 983.8L439.4 985.0L439.9 986.1L440.4 987.3L440.9 988.5L441.4 989.6L441.9 990.8L442.4 991.9L442.9 993.1L443.5 994.3L444.0 995.4L444.6 996.6L445.1 997.7L445.7 998.9L446.3 1000.1L446.9 1001.2M488.2 1052.4L489.5 1053.4L490.9 1054.6L492.4 1055.7L493.8 1056.9L495.3 1058.1L496.9 1059.2L498.4 1060.4L500.0 1061.5L501.6 1062.7L503.3 1063.9L504.9 1065.0L506.6 1066.2L508.4 1067.4L510.1 1068.5L511.9 1069.7L513.8 1070.8L515.7 1072.0L517.6 1073.2L519.5 1074.3L521.5 1075.5L523.5 1076.6L525.6 1077.8L527.7 1079.0L529.8 1080.1L532.0 1081.3L534.2 1082.4L536.4 1083.6L538.7 1084.8L541.1 1085.9L543.5 1087.1L545.9 1088.2L548.4 1089.4L550.9 1090.6L553.5 1091.7L556.1 1092.9L558.8 1094.0L561.5 1095.2L564.3 1096.4L567.1 1097.5L570.0 1098.7L572.9 1099.8L575.9 1101.0L578.9 1102.2L582.0 1103.3L585.2 1104.5L588.4 1105.6L591.7 1106.8" fill="none" stroke="#000" stroke-width="3.20" clip-path="url(#clB)"/>
<text transform="translate(465.0 1028.8) rotate(51.1)" text-anchor="middle" font-size="28.0" fill="#000" y="7.4" textLength="36.3" lengthAdjust="spacingAndGlyphs">0.6</text>
<path d="M475.0 852.7L475.0 853.7L475.1 854.7L475.2 855.7L475.2 856.7L475.3 857.7L475.4 858.7L475.4 859.7L475.5 860.7L475.6 861.7L475.6 862.7L475.7 863.7L475.8 864.7L475.9 865.7L475.9 866.7L476.0 867.7L476.1 868.7L476.2 869.7L476.2 870.7L476.3 871.7L476.4 872.7L476.5 873.7L476.6 874.7L476.6 875.7L476.7 876.7L476.8 877.7L476.9 878.7L477.0 879.7L477.1 880.7L477.2 881.7L477.3 882.7L477.4 883.7L477.5 884.7L477.6 885.7L477.7 886.7L477.8 887.7L477.9 888.7L478.0 889.6L478.1 890.6L478.2 891.6L478.3 892.6L478.4 893.6L478.5 894.6L478.7 895.6L478.8 896.6L478.9 897.6L479.0 898.6L479.1 899.6L479.3 900.6L479.4 901.6L479.5 902.6L479.6 903.6L479.8 904.6L479.9 905.6L480.1 906.6L480.2 907.6L480.3 908.6L480.5 909.6L480.6 910.6L480.8 911.6L480.9 912.6L481.1 913.6L481.2 914.6L481.4 915.6L481.6 916.6L481.7 917.6L481.9 918.6L482.0 919.6L482.2 920.6L482.4 921.6L482.6 922.6L482.8 923.6L482.9 924.6L483.1 925.6L483.3 926.6L483.5 927.6L483.7 928.6L483.9 929.6L484.1 930.6L484.3 931.6L484.5 932.6L484.7 933.6L484.9 934.6L485.1 935.6L485.4 936.6L485.6 937.6L485.8 938.6L486.0 939.6L486.3 940.6L486.5 941.6L486.8 942.6L487.0 943.6L487.3 944.6L487.5 945.6L487.8 946.6L488.0 947.6L488.3 948.6L488.6 949.6L488.8 950.6L489.1 951.6L489.4 952.6L489.7 953.6L490.0 954.6L490.3 955.6L490.6 956.6L490.9 957.6L491.2 958.6L491.5 959.6L491.8 960.6L492.2 961.6L492.4 962.3M524.1 1019.9L524.6 1020.5L525.4 1021.5L526.3 1022.5L527.2 1023.5L528.1 1024.5L529.0 1025.5L529.9 1026.5L530.9 1027.5L531.8 1028.5L532.8 1029.5L533.8 1030.5L534.8 1031.5L535.8 1032.5L536.9 1033.5L537.9 1034.5L539.0 1035.4L540.1 1036.4L541.2 1037.4L542.3 1038.4L543.5 1039.4L544.6 1040.4L545.8 1041.4L547.0 1042.4L548.2 1043.4L549.5 1044.4L550.7 1045.4L552.0 1046.4L553.3 1047.4L554.6 1048.4L556.0 1049.4L557.3 1050.4L558.7 1051.4L560.1 1052.4L561.6 1053.4L563.0 1054.4L564.5 1055.4L566.0 1056.4L567.5 1057.4L569.1 1058.4L570.7 1059.4L572.3 1060.4L573.9 1061.4L575.5 1062.4L577.2 1063.4L578.9 1064.4L580.7 1065.4L582.4 1066.4L584.2 1067.4L586.1 1068.4L587.9 1069.4L589.8 1070.4L591.7 1071.4" fill="none" stroke="#000" stroke-width="3.20" clip-path="url(#clB)"/>
<text transform="translate(505.5 992.6) rotate(61.2)" text-anchor="middle" font-size="28.0" fill="#000" y="7.4" textLength="36.3" lengthAdjust="spacingAndGlyphs">0.7</text>
<path d="M524.0 852.7L524.1 853.5L524.1 854.3L524.2 855.2L524.3 856.0L524.3 856.8L524.4 857.6L524.4 858.4L524.5 859.2L524.5 860.1L524.6 860.9L524.7 861.7L524.7 862.5L524.8 863.3L524.9 864.1L524.9 865.0L525.0 865.8L525.1 866.6L525.1 867.4L525.2 868.2L525.3 869.0L525.3 869.9L525.4 870.7L525.5 871.5L525.5 872.3L525.6 873.1L525.7 874.0L525.8 874.8L525.8 875.6L525.9 876.4L526.0 877.2L526.1 878.0L526.2 878.9L526.2 879.7L526.3 880.5L526.4 881.3L526.5 882.1L526.6 882.9L526.7 883.8L526.7 884.6L526.8 885.4L526.9 886.2L527.0 887.0L527.1 887.8L527.2 888.7L527.3 889.5L527.4 890.3L527.5 891.1L527.6 891.9L527.7 892.7L527.8 893.6L527.9 894.4L528.0 895.2L528.1 896.0L528.2 896.8L528.3 897.7L528.4 898.5L528.5 899.3L528.7 900.1L528.8 900.9L528.9 901.7L529.0 902.6L529.1 903.4L529.2 904.2L529.4 905.0L529.5 905.8L529.6 906.6L529.7 907.5L529.9 908.3L530.0 909.1L530.1 909.9L530.3 910.7L530.4 911.5L530.5 912.4L530.7 913.2L530.8 914.0L531.0 914.8L531.1 915.6L531.2 916.5L531.4 917.3L531.5 918.1L531.7 918.9L531.9 919.7L532.0 920.5L532.2 921.4L532.3 922.2L532.5 923.0L532.7 923.8L532.8 924.6L533.0 925.4L533.2 926.3L533.3 927.1L533.5 927.9L533.7 928.7L533.8 929.2M557.2 990.9L557.6 991.6L558.1 992.5L558.6 993.3L559.2 994.1L559.7 994.9L560.2 995.7L560.7 996.5L561.3 997.4L561.8 998.2L562.4 999.0L562.9 999.8L563.5 1000.6L564.1 1001.5L564.7 1002.3L565.2 1003.1L565.8 1003.9L566.4 1004.7L567.1 1005.5L567.7 1006.4L568.3 1007.2L569.0 1008.0L569.6 1008.8L570.3 1009.6L570.9 1010.4L571.6 1011.3L572.3 1012.1L573.0 1012.9L573.7 1013.7L574.4 1014.5L575.1 1015.3L575.8 1016.2L576.6 1017.0L577.3 1017.8L578.1 1018.6L578.9 1019.4L579.6 1020.2L580.4 1021.1L581.2 1021.9L582.0 1022.7L582.9 1023.5L583.7 1024.3L584.5 1025.2L585.4 1026.0L586.3 1026.8L587.1 1027.6L588.0 1028.4L588.9 1029.2L589.8 1030.1L590.8 1030.9L591.7 1031.7" fill="none" stroke="#000" stroke-width="3.20" clip-path="url(#clB)"/>
<text transform="translate(543.0 961.0) rotate(69.2)" text-anchor="middle" font-size="28.0" fill="#000" y="7.4" textLength="36.3" lengthAdjust="spacingAndGlyphs">0.8</text>
<path d="M564.3 852.7L564.3 853.3L564.4 853.8L564.4 854.4L564.4 854.9L564.5 855.5L564.5 856.1L564.6 856.6L564.6 857.2L564.6 857.7L564.7 858.3L564.7 858.9L564.8 859.4L564.8 860.0L564.9 860.5L564.9 861.1L565.0 861.6L565.0 862.2L565.1 862.8L565.1 863.3L565.2 863.9L565.2 864.4L565.3 865.0L565.3 865.6L565.4 866.1L565.4 866.7L565.5 867.2L565.5 867.8L565.6 868.4L565.6 868.9L565.7 869.5L565.7 870.0L565.8 870.6L565.8 871.2L565.9 871.7L565.9 872.3L566.0 872.8L566.0 873.4L566.1 874.0L566.2 874.5L566.2 875.1L566.3 875.6L566.3 876.2L566.4 876.8L566.4 877.3L566.5 877.9L566.6 878.4L566.6 879.0L566.7 879.5L566.8 880.1L566.8 880.7L566.9 881.2L566.9 881.8L567.0 882.3L567.1 882.9L567.1 883.5L567.2 884.0L567.3 884.6L567.3 885.1L567.4 885.7L567.5 886.3L567.5 886.8L567.6 887.4L567.7 887.9L567.8 888.5L567.8 889.1L567.9 889.6L568.0 890.2L568.0 890.3M582.8 954.7L582.9 955.1L583.1 955.6L583.3 956.2L583.5 956.7L583.7 957.3L584.0 957.9L584.2 958.4L584.4 959.0L584.6 959.5L584.8 960.1L585.1 960.6L585.3 961.2L585.5 961.8L585.8 962.3L586.0 962.9L586.2 963.4L586.5 964.0L586.7 964.6L586.9 965.1L587.2 965.7L587.4 966.2L587.7 966.8L587.9 967.4L588.2 967.9L588.4 968.5L588.7 969.0L589.0 969.6L589.2 970.2L589.5 970.7L589.8 971.3L590.0 971.8L590.3 972.4L590.6 973.0L590.9 973.5L591.1 974.1L591.4 974.6L591.7 975.2" fill="none" stroke="#000" stroke-width="3.20" clip-path="url(#clB)"/>
<text transform="translate(573.6 922.9) rotate(77.1)" text-anchor="middle" font-size="28.0" fill="#000" y="7.4" textLength="36.3" lengthAdjust="spacingAndGlyphs">0.9</text>
<g stroke="#000" stroke-width="1.6" fill="none"><rect x="124.30" y="76.90" width="475.10" height="578.00"/><path d="M124.30 654.90v7.6"/><path d="M219.32 654.90v7.6"/><path d="M314.34 654.90v7.6"/><path d="M409.36 654.90v7.6"/><path d="M504.38 654.90v7.6"/><path d="M599.40 654.90v7.6"/><path d="M124.30 654.90h-7.6"/><path d="M124.30 510.40h-7.6"/><path d="M124.30 365.90h-7.6"/><path d="M124.30 221.40h-7.6"/><path d="M124.30 76.90h-7.6"/></g><g stroke="#000" stroke-width="1.2" fill="none"><path d="M124.30 611.40h-4.4"/><path d="M124.30 585.96h-4.4"/><path d="M124.30 567.90h-4.4"/><path d="M124.30 553.90h-4.4"/><path d="M124.30 542.46h-4.4"/><path d="M124.30 532.78h-4.4"/><path d="M124.30 524.40h-4.4"/><path d="M124.30 517.01h-4.4"/><path d="M124.30 466.90h-4.4"/><path d="M124.30 441.46h-4.4"/><path d="M124.30 423.40h-4.4"/><path d="M124.30 409.40h-4.4"/><path d="M124.30 397.96h-4.4"/><path d="M124.30 388.28h-4.4"/><path d="M124.30 379.90h-4.4"/><path d="M124.30 372.51h-4.4"/><path d="M124.30 322.40h-4.4"/><path d="M124.30 296.96h-4.4"/><path d="M124.30 278.90h-4.4"/><path d="M124.30 264.90h-4.4"/><path d="M124.30 253.46h-4.4"/><path d="M124.30 243.78h-4.4"/><path d="M124.30 235.40h-4.4"/><path d="M124.30 228.01h-4.4"/><path d="M124.30 177.90h-4.4"/><path d="M124.30 152.46h-4.4"/><path d="M124.30 134.40h-4.4"/><path d="M124.30 120.40h-4.4"/><path d="M124.30 108.96h-4.4"/><path d="M124.30 99.28h-4.4"/><path d="M124.30 90.90h-4.4"/><path d="M124.30 83.51h-4.4"/></g>
<g font-size="28.6" fill="#000"><text x="124.6" y="690.3" text-anchor="middle">0.0</text><text x="219.6" y="690.3" text-anchor="middle">0.2</text><text x="314.6" y="690.3" text-anchor="middle">0.4</text><text x="409.7" y="690.3" text-anchor="middle">0.6</text><text x="504.7" y="690.3" text-anchor="middle">0.8</text><text x="599.7" y="690.3" text-anchor="middle">1.0</text><text x="82.7" y="665.8" text-anchor="end" textLength="29.8" lengthAdjust="spacingAndGlyphs">10</text><text x="84.7" y="655.2" font-size="21.5" textLength="25.2" lengthAdjust="spacingAndGlyphs"><tspan dy="3.2">−</tspan><tspan dy="-3.2">2</tspan></text><text x="82.7" y="521.3" text-anchor="end" textLength="29.8" lengthAdjust="spacingAndGlyphs">10</text><text x="84.7" y="510.7" font-size="21.5" textLength="25.2" lengthAdjust="spacingAndGlyphs"><tspan dy="3.2">−</tspan><tspan dy="-3.2">1</tspan></text><text x="98.5" y="376.8" text-anchor="end" textLength="29.8" lengthAdjust="spacingAndGlyphs">10</text><text x="100.5" y="366.2" font-size="21.5" textLength="9.4" lengthAdjust="spacingAndGlyphs">0</text><text x="98.5" y="232.3" text-anchor="end" textLength="29.8" lengthAdjust="spacingAndGlyphs">10</text><text x="100.5" y="221.7" font-size="21.5" textLength="9.4" lengthAdjust="spacingAndGlyphs">1</text><text x="98.5" y="87.8" text-anchor="end" textLength="29.8" lengthAdjust="spacingAndGlyphs">10</text><text x="100.5" y="77.2" font-size="21.5" textLength="9.4" lengthAdjust="spacingAndGlyphs">2</text></g>
<g stroke="#000" stroke-width="1.6" fill="none"><rect x="122.80" y="852.70" width="468.90" height="570.60"/><path d="M122.80 1423.30v7.6"/><path d="M216.58 1423.30v7.6"/><path d="M310.36 1423.30v7.6"/><path d="M404.14 1423.30v7.6"/><path d="M497.92 1423.30v7.6"/><path d="M591.70 1423.30v7.6"/><path d="M122.80 1423.30h-7.6"/><path d="M122.80 1280.65h-7.6"/><path d="M122.80 1138.00h-7.6"/><path d="M122.80 995.35h-7.6"/><path d="M122.80 852.70h-7.6"/></g><g stroke="#000" stroke-width="1.2" fill="none"><path d="M122.80 1380.36h-4.4"/><path d="M122.80 1355.24h-4.4"/><path d="M122.80 1337.42h-4.4"/><path d="M122.80 1323.59h-4.4"/><path d="M122.80 1312.30h-4.4"/><path d="M122.80 1302.75h-4.4"/><path d="M122.80 1294.47h-4.4"/><path d="M122.80 1287.18h-4.4"/><path d="M122.80 1237.71h-4.4"/><path d="M122.80 1212.59h-4.4"/><path d="M122.80 1194.77h-4.4"/><path d="M122.80 1180.94h-4.4"/><path d="M122.80 1169.65h-4.4"/><path d="M122.80 1160.10h-4.4"/><path d="M122.80 1151.82h-4.4"/><path d="M122.80 1144.53h-4.4"/><path d="M122.80 1095.06h-4.4"/><path d="M122.80 1069.94h-4.4"/><path d="M122.80 1052.12h-4.4"/><path d="M122.80 1038.29h-4.4"/><path d="M122.80 1027.00h-4.4"/><path d="M122.80 1017.45h-4.4"/><path d="M122.80 1009.17h-4.4"/><path d="M122.80 1001.88h-4.4"/><path d="M122.80 952.41h-4.4"/><path d="M122.80 927.29h-4.4"/><path d="M122.80 909.47h-4.4"/><path d="M122.80 895.64h-4.4"/><path d="M122.80 884.35h-4.4"/><path d="M122.80 874.80h-4.4"/><path d="M122.80 866.52h-4.4"/><path d="M122.80 859.23h-4.4"/></g>
<g font-size="28.6" fill="#000"><text x="123.1" y="1458.3" text-anchor="middle">0.0</text><text x="216.9" y="1458.3" text-anchor="middle">0.2</text><text x="310.7" y="1458.3" text-anchor="middle">0.4</text><text x="404.4" y="1458.3" text-anchor="middle">0.6</text><text x="498.2" y="1458.3" text-anchor="middle">0.8</text><text x="592.0" y="1458.3" text-anchor="middle">1.0</text><text x="81.2" y="1434.2" text-anchor="end" textLength="29.8" lengthAdjust="spacingAndGlyphs">10</text><text x="83.2" y="1423.6" font-size="21.5" textLength="25.2" lengthAdjust="spacingAndGlyphs"><tspan dy="3.2">−</tspan><tspan dy="-3.2">2</tspan></text><text x="81.2" y="1291.6" text-anchor="end" textLength="29.8" lengthAdjust="spacingAndGlyphs">10</text><text x="83.2" y="1281.0" font-size="21.5" textLength="25.2" lengthAdjust="spacingAndGlyphs"><tspan dy="3.2">−</tspan><tspan dy="-3.2">1</tspan></text><text x="97.0" y="1148.9" text-anchor="end" textLength="29.8" lengthAdjust="spacingAndGlyphs">10</text><text x="99.0" y="1138.3" font-size="21.5" textLength="9.4" lengthAdjust="spacingAndGlyphs">0</text><text x="97.0" y="1006.2" text-anchor="end" textLength="29.8" lengthAdjust="spacingAndGlyphs">10</text><text x="99.0" y="995.6" font-size="21.5" textLength="9.4" lengthAdjust="spacingAndGlyphs">1</text><text x="97.0" y="863.6" text-anchor="end" textLength="29.8" lengthAdjust="spacingAndGlyphs">10</text><text x="99.0" y="853.0" font-size="21.5" textLength="9.4" lengthAdjust="spacingAndGlyphs">2</text></g>
<rect x="629.10" y="103.80" width="27.80" height="550.80" fill="url(#cA)"/>
<path d="M629.10 104.30L643.00 75.90L656.90 104.30Z" fill="#67000d"/>
<path d="M629.10 654.60V103.80L643.00 75.90L656.90 103.80V654.60Z" fill="none" stroke="#000" stroke-width="1.6" stroke-linejoin="miter"/>
<g stroke="#000" stroke-width="1.6"><path d="M656.90 654.60h7.4"/><path d="M656.90 544.44h7.4"/><path d="M656.90 434.28h7.4"/><path d="M656.90 324.12h7.4"/><path d="M656.90 213.96h7.4"/><path d="M656.90 103.80h7.4"/></g><g font-size="28.6" fill="#000"><text x="672.0" y="665.2">0</text><text x="672.0" y="555.0">2</text><text x="672.0" y="444.9">4</text><text x="672.0" y="334.7">6</text><text x="672.0" y="224.6">8</text><text x="672.0" y="114.4">10</text></g>
<rect x="621.20" y="852.70" width="28.10" height="570.60" fill="url(#cB)" stroke="#000" stroke-width="1.6"/>
<g stroke="#000" stroke-width="1.6"><path d="M649.30 1423.30h7.4"/><path d="M649.30 1309.18h7.4"/><path d="M649.30 1195.06h7.4"/><path d="M649.30 1080.94h7.4"/><path d="M649.30 966.82h7.4"/><path d="M649.30 852.70h7.4"/></g><g font-size="28.6" fill="#000"><text x="664.0" y="1433.9">0.0</text><text x="664.0" y="1319.8">0.2</text><text x="664.0" y="1205.7">0.4</text><text x="664.0" y="1091.5">0.6</text><text x="664.0" y="977.4">0.8</text><text x="664.0" y="863.3">1.0</text></g>
<text x="152.6" y="31.2" font-size="37.5" word-spacing="6" textLength="515.5" lengthAdjust="spacingAndGlyphs">Variance (Sideband Detection)</text>
<text x="171.2" y="807.8" font-size="37.5" word-spacing="6" textLength="470" lengthAdjust="spacingAndGlyphs">Purity (Sideband Detection)</text>
<text x="-0.9" y="30.1" class="pl" font-size="43.2">A</text>
<text x="0" y="801.6" class="pl" font-size="43.2">B</text>
<text x="362.5" y="734.5" text-anchor="middle" font-style="italic" font-size="44">η</text>
<text x="358" y="1505" text-anchor="middle" font-style="italic" font-size="44">η</text>
<text transform="translate(31 387.5) rotate(-90)" font-style="italic" font-size="47">C<tspan dy="6" dx="-1.5" font-size="31">q</tspan></text>
<text transform="translate(31 1159.5) rotate(-90)" font-style="italic" font-size="47">C<tspan dy="6" dx="-1.5" font-size="31">q</tspan></text>
</svg>
</body></html>
